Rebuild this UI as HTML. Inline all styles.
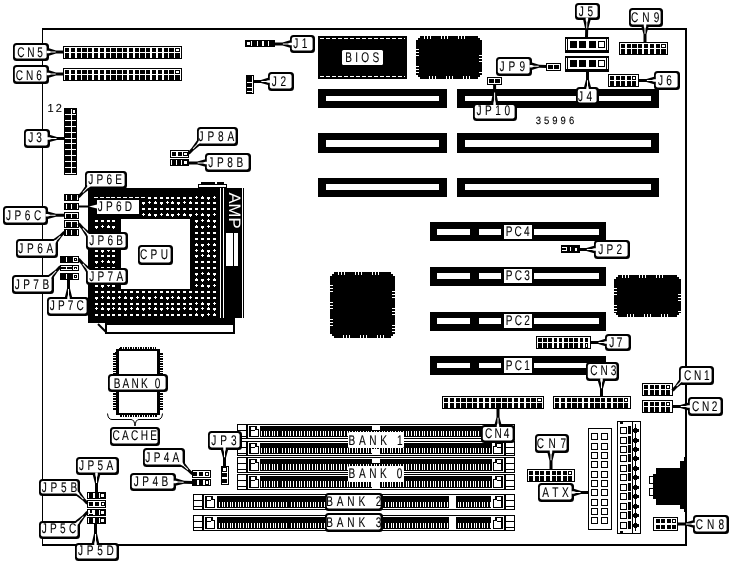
<!DOCTYPE html>
<html><head><meta charset="utf-8"><title>Motherboard layout</title>
<style>
html,body{margin:0;padding:0;background:#fff;}
body{width:731px;height:563px;overflow:hidden;}
svg{display:block;font-family:"Liberation Sans",sans-serif;}
svg rect,svg line,svg path,svg polygon{shape-rendering:crispEdges;}
svg text{text-rendering:geometricPrecision;}
svg{will-change:transform;}
</style></head><body>
<svg width="731" height="563" viewBox="0 0 731 563">
<rect x="0" y="0" width="731" height="563" fill="#fff"/>
<rect x="42" y="28" width="645" height="2" fill="#000"/>
<rect x="42" y="28" width="1" height="517" fill="#000"/>
<rect x="685" y="28" width="2" height="518" fill="#000"/>
<rect x="42" y="544" width="645" height="2" fill="#000"/>
<rect x="63" y="46" width="119" height="13" fill="#000"/>
<rect x="64" y="47" width="117" height="11" fill="#fff"/>
<rect x="65" y="48" width="4" height="4" fill="#000"/>
<rect x="65" y="53" width="4" height="5" fill="#000"/>
<rect x="71" y="48" width="4" height="4" fill="#000"/>
<rect x="71" y="53" width="4" height="5" fill="#000"/>
<rect x="77" y="48" width="4" height="4" fill="#000"/>
<rect x="77" y="53" width="4" height="5" fill="#000"/>
<rect x="82" y="48" width="5" height="4" fill="#000"/>
<rect x="82" y="53" width="5" height="5" fill="#000"/>
<rect x="88" y="48" width="4" height="4" fill="#000"/>
<rect x="88" y="53" width="4" height="5" fill="#000"/>
<rect x="94" y="48" width="4" height="4" fill="#000"/>
<rect x="94" y="53" width="4" height="5" fill="#000"/>
<rect x="100" y="48" width="4" height="4" fill="#000"/>
<rect x="100" y="53" width="4" height="5" fill="#000"/>
<rect x="106" y="48" width="4" height="4" fill="#000"/>
<rect x="106" y="53" width="4" height="5" fill="#000"/>
<rect x="111" y="48" width="5" height="4" fill="#000"/>
<rect x="111" y="53" width="5" height="5" fill="#000"/>
<rect x="117" y="48" width="5" height="4" fill="#000"/>
<rect x="117" y="53" width="5" height="5" fill="#000"/>
<rect x="123" y="48" width="4" height="4" fill="#000"/>
<rect x="123" y="53" width="4" height="5" fill="#000"/>
<rect x="129" y="48" width="4" height="4" fill="#000"/>
<rect x="129" y="53" width="4" height="5" fill="#000"/>
<rect x="135" y="48" width="4" height="4" fill="#000"/>
<rect x="135" y="53" width="4" height="5" fill="#000"/>
<rect x="140" y="48" width="5" height="4" fill="#000"/>
<rect x="140" y="53" width="5" height="5" fill="#000"/>
<rect x="146" y="48" width="4" height="4" fill="#000"/>
<rect x="146" y="53" width="4" height="5" fill="#000"/>
<rect x="152" y="48" width="4" height="4" fill="#000"/>
<rect x="152" y="53" width="4" height="5" fill="#000"/>
<rect x="158" y="48" width="4" height="4" fill="#000"/>
<rect x="158" y="53" width="4" height="5" fill="#000"/>
<rect x="164" y="48" width="4" height="4" fill="#000"/>
<rect x="164" y="53" width="4" height="5" fill="#000"/>
<rect x="169" y="48" width="5" height="4" fill="#000"/>
<rect x="169" y="53" width="5" height="5" fill="#000"/>
<rect x="175" y="48" width="5" height="4" fill="#000"/>
<rect x="175" y="53" width="5" height="5" fill="#000"/>
<rect x="176" y="49" width="3" height="2" fill="#fff"/>
<polygon points="47.80,55.70 49.00,55.70 56.00,53.50 63.00,53.50 63.00,50.50 56.00,50.50 49.00,48.30 47.80,48.30" fill="#000" style="shape-rendering:auto"/>
<rect x="13" y="43" width="36" height="18" rx="3.5" fill="#000" style="shape-rendering:auto"/>
<rect x="14.8" y="44.9" width="31.8" height="13.7" rx="2" fill="#fff" style="shape-rendering:auto"/>
<rect x="63" y="68" width="119" height="13" fill="#000"/>
<rect x="64" y="69" width="117" height="11" fill="#fff"/>
<rect x="65" y="70" width="4" height="4" fill="#000"/>
<rect x="65" y="75" width="4" height="5" fill="#000"/>
<rect x="71" y="70" width="4" height="4" fill="#000"/>
<rect x="71" y="75" width="4" height="5" fill="#000"/>
<rect x="77" y="70" width="4" height="4" fill="#000"/>
<rect x="77" y="75" width="4" height="5" fill="#000"/>
<rect x="82" y="70" width="5" height="4" fill="#000"/>
<rect x="82" y="75" width="5" height="5" fill="#000"/>
<rect x="88" y="70" width="4" height="4" fill="#000"/>
<rect x="88" y="75" width="4" height="5" fill="#000"/>
<rect x="94" y="70" width="4" height="4" fill="#000"/>
<rect x="94" y="75" width="4" height="5" fill="#000"/>
<rect x="100" y="70" width="4" height="4" fill="#000"/>
<rect x="100" y="75" width="4" height="5" fill="#000"/>
<rect x="106" y="70" width="4" height="4" fill="#000"/>
<rect x="106" y="75" width="4" height="5" fill="#000"/>
<rect x="111" y="70" width="5" height="4" fill="#000"/>
<rect x="111" y="75" width="5" height="5" fill="#000"/>
<rect x="117" y="70" width="5" height="4" fill="#000"/>
<rect x="117" y="75" width="5" height="5" fill="#000"/>
<rect x="123" y="70" width="4" height="4" fill="#000"/>
<rect x="123" y="75" width="4" height="5" fill="#000"/>
<rect x="129" y="70" width="4" height="4" fill="#000"/>
<rect x="129" y="75" width="4" height="5" fill="#000"/>
<rect x="135" y="70" width="4" height="4" fill="#000"/>
<rect x="135" y="75" width="4" height="5" fill="#000"/>
<rect x="140" y="70" width="5" height="4" fill="#000"/>
<rect x="140" y="75" width="5" height="5" fill="#000"/>
<rect x="146" y="70" width="4" height="4" fill="#000"/>
<rect x="146" y="75" width="4" height="5" fill="#000"/>
<rect x="152" y="70" width="4" height="4" fill="#000"/>
<rect x="152" y="75" width="4" height="5" fill="#000"/>
<rect x="158" y="70" width="4" height="4" fill="#000"/>
<rect x="158" y="75" width="4" height="5" fill="#000"/>
<rect x="164" y="70" width="4" height="4" fill="#000"/>
<rect x="164" y="75" width="4" height="5" fill="#000"/>
<rect x="169" y="70" width="5" height="4" fill="#000"/>
<rect x="169" y="75" width="5" height="5" fill="#000"/>
<rect x="175" y="70" width="5" height="4" fill="#000"/>
<rect x="175" y="75" width="5" height="5" fill="#000"/>
<rect x="176" y="71" width="3" height="2" fill="#fff"/>
<polygon points="47.80,77.70 49.00,77.70 56.00,75.50 63.00,75.50 63.00,72.50 56.00,72.50 49.00,70.30 47.80,70.30" fill="#000" style="shape-rendering:auto"/>
<rect x="13" y="65" width="36" height="19" rx="3.5" fill="#000" style="shape-rendering:auto"/>
<rect x="14.8" y="66.9" width="31.8" height="14.7" rx="2" fill="#fff" style="shape-rendering:auto"/>
<rect x="64" y="108" width="13" height="67" fill="#000"/>
<rect x="65" y="109" width="11" height="65" fill="#fff"/>
<rect x="65" y="109" width="6" height="5" fill="#000"/>
<rect x="72" y="109" width="4" height="5" fill="#000"/>
<rect x="65" y="115" width="6" height="5" fill="#000"/>
<rect x="72" y="115" width="4" height="5" fill="#000"/>
<rect x="65" y="121" width="6" height="5" fill="#000"/>
<rect x="72" y="121" width="4" height="5" fill="#000"/>
<rect x="65" y="127" width="6" height="5" fill="#000"/>
<rect x="72" y="127" width="4" height="5" fill="#000"/>
<rect x="65" y="133" width="6" height="5" fill="#000"/>
<rect x="72" y="133" width="4" height="5" fill="#000"/>
<rect x="65" y="139" width="6" height="4" fill="#000"/>
<rect x="72" y="139" width="4" height="4" fill="#000"/>
<rect x="65" y="144" width="6" height="5" fill="#000"/>
<rect x="72" y="144" width="4" height="5" fill="#000"/>
<rect x="65" y="150" width="6" height="5" fill="#000"/>
<rect x="72" y="150" width="4" height="5" fill="#000"/>
<rect x="65" y="156" width="6" height="5" fill="#000"/>
<rect x="72" y="156" width="4" height="5" fill="#000"/>
<rect x="65" y="162" width="6" height="5" fill="#000"/>
<rect x="72" y="162" width="4" height="5" fill="#000"/>
<rect x="65" y="168" width="6" height="5" fill="#000"/>
<rect x="72" y="168" width="4" height="5" fill="#000"/>
<rect x="73" y="110" width="2" height="3" fill="#fff"/>
<polygon points="48.30,142.10 49.50,142.10 56.90,139.90 64.30,139.90 64.30,136.90 56.90,136.90 49.50,134.70 48.30,134.70" fill="#000" style="shape-rendering:auto"/>
<rect x="24" y="129" width="26" height="19" rx="3.5" fill="#000" style="shape-rendering:auto"/>
<rect x="25.8" y="130.9" width="21.8" height="14.7" rx="2" fill="#fff" style="shape-rendering:auto"/>
<rect x="245" y="40" width="30" height="7" fill="#000"/>
<rect x="247" y="42" width="3" height="3" fill="#fff"/>
<rect x="251" y="41" width="1" height="5" fill="#fff"/>
<rect x="257" y="41" width="1" height="5" fill="#fff"/>
<rect x="268" y="41" width="1" height="5" fill="#fff"/>
<rect x="262" y="41" width="2" height="5" fill="#fff"/>
<polygon points="291.20,40.30 290.00,40.30 282.50,42.50 275.00,42.50 275.00,45.50 282.50,45.50 290.00,47.70 291.20,47.70" fill="#000" style="shape-rendering:auto"/>
<rect x="290" y="35" width="25" height="18" rx="3.5" fill="#000" style="shape-rendering:auto"/>
<rect x="291.8" y="36.9" width="20.8" height="13.7" rx="2" fill="#fff" style="shape-rendering:auto"/>
<rect x="246" y="75" width="8" height="19" fill="#000"/>
<rect x="252" y="76" width="1" height="17" fill="#fff"/>
<rect x="247" y="82" width="5" height="1" fill="#fff"/>
<rect x="247" y="87" width="5" height="1" fill="#fff"/>
<rect x="247" y="91" width="5" height="1" fill="#fff"/>
<polygon points="269.17,77.69 267.97,77.70 260.99,79.95 253.99,80.00 254.01,83.00 261.01,82.95 268.03,85.10 269.23,85.09" fill="#000" style="shape-rendering:auto"/>
<rect x="268" y="72" width="26" height="19" rx="3.5" fill="#000" style="shape-rendering:auto"/>
<rect x="269.8" y="73.9" width="21.8" height="14.7" rx="2" fill="#fff" style="shape-rendering:auto"/>
<rect x="318" y="36" width="89" height="43" fill="#000"/>
<line x1="320" y1="38.5" x2="405" y2="38.5" stroke="#fff" stroke-width="1" stroke-dasharray="4 2"/>
<line x1="320" y1="76.5" x2="405" y2="76.5" stroke="#fff" stroke-width="1" stroke-dasharray="4 2"/>
<rect x="342" y="50" width="41" height="15" rx="1.5" fill="#fff" style="shape-rendering:auto"/>
<path d="M420 36H478V38H480V40H482V75H480V77H478V79H420V77H418V75H416V40H418V38H420Z" fill="#000" stroke="none" stroke-width="1"/>
<path d="M424 36h1v3h-1zM429 76h1v3h-1zM427 36h1v3h-1zM432 76h1v3h-1zM430 36h1v3h-1zM435 76h1v3h-1zM441 36h1v3h-1zM446 76h1v3h-1zM444 36h1v3h-1zM449 76h1v3h-1zM447 36h1v3h-1zM452 76h1v3h-1zM458 36h1v3h-1zM463 76h1v3h-1zM461 36h1v3h-1zM466 76h1v3h-1zM464 36h1v3h-1zM469 76h1v3h-1zM416 49h3v1h-3zM479 55h3v1h-3zM416 52h3v1h-3zM479 58h3v1h-3zM416 55h3v1h-3zM479 61h3v1h-3zM416 66h3v1h-3zM479 72h3v1h-3zM416 69h3v1h-3zM416 72h3v1h-3z" fill="#fff" stroke="none" stroke-width="1"/>
<path d="M618 275H677V277H679V279H681V313H679V315H677V317H618V315H616V313H614V279H616V277H618Z" fill="#000" stroke="none" stroke-width="1"/>
<path d="M622 275h1v3h-1zM627 314h1v3h-1zM625 275h1v3h-1zM630 314h1v3h-1zM628 275h1v3h-1zM633 314h1v3h-1zM639 275h1v3h-1zM644 314h1v3h-1zM642 275h1v3h-1zM647 314h1v3h-1zM645 275h1v3h-1zM650 314h1v3h-1zM656 275h1v3h-1zM661 314h1v3h-1zM659 275h1v3h-1zM664 314h1v3h-1zM662 275h1v3h-1zM667 314h1v3h-1zM614 288h3v1h-3zM678 294h3v1h-3zM614 291h3v1h-3zM678 297h3v1h-3zM614 294h3v1h-3zM678 300h3v1h-3zM614 305h3v1h-3zM678 311h3v1h-3zM614 308h3v1h-3zM614 311h3v1h-3z" fill="#fff" stroke="none" stroke-width="1"/>
<path d="M334 272H391V274H393V276H395V334H393V336H391V338H334V336H332V334H330V276H332V274H334Z" fill="#000" stroke="none" stroke-width="1"/>
<path d="M338 272h1v3h-1zM343 335h1v3h-1zM341 272h1v3h-1zM346 335h1v3h-1zM344 272h1v3h-1zM349 335h1v3h-1zM355 272h1v3h-1zM360 335h1v3h-1zM358 272h1v3h-1zM363 335h1v3h-1zM361 272h1v3h-1zM366 335h1v3h-1zM372 272h1v3h-1zM377 335h1v3h-1zM375 272h1v3h-1zM380 335h1v3h-1zM378 272h1v3h-1zM383 335h1v3h-1zM330 285h3v1h-3zM392 291h3v1h-3zM330 288h3v1h-3zM392 294h3v1h-3zM330 291h3v1h-3zM392 297h3v1h-3zM330 302h3v1h-3zM392 308h3v1h-3zM330 305h3v1h-3zM392 311h3v1h-3zM330 308h3v1h-3zM392 314h3v1h-3zM330 319h3v1h-3zM392 325h3v1h-3zM330 322h3v1h-3zM392 328h3v1h-3zM330 325h3v1h-3zM392 331h3v1h-3z" fill="#fff" stroke="none" stroke-width="1"/>
<rect x="546" y="63" width="15" height="8" fill="#000"/>
<rect x="547" y="64" width="13" height="6" fill="#fff"/>
<rect x="548" y="65" width="5" height="4" fill="#000"/>
<rect x="554" y="65" width="5" height="4" fill="#000"/>
<polygon points="530.52,69.87 531.72,69.90 539.02,67.85 546.27,68.00 546.33,65.00 539.08,64.85 531.88,62.50 530.68,62.48" fill="#000" style="shape-rendering:auto"/>
<rect x="496" y="57" width="36" height="19" rx="3.5" fill="#000" style="shape-rendering:auto"/>
<rect x="497.8" y="58.9" width="31.8" height="14.7" rx="2" fill="#fff" style="shape-rendering:auto"/>
<rect x="318" y="89" width="129" height="19" fill="#000"/>
<rect x="326" y="96" width="113" height="5" fill="#fff"/>
<rect x="457" y="89" width="202" height="19" fill="#000"/>
<rect x="465" y="96" width="186" height="5" fill="#fff"/>
<rect x="318" y="133" width="129" height="20" fill="#000"/>
<rect x="326" y="140" width="113" height="7" fill="#fff"/>
<rect x="457" y="133" width="202" height="20" fill="#000"/>
<rect x="465" y="140" width="186" height="7" fill="#fff"/>
<rect x="318" y="178" width="129" height="19" fill="#000"/>
<rect x="326" y="184" width="113" height="6" fill="#fff"/>
<rect x="457" y="178" width="202" height="19" fill="#000"/>
<rect x="465" y="184" width="186" height="6" fill="#fff"/>
<rect x="487" y="77" width="15" height="8" fill="#000"/>
<rect x="488" y="78" width="13" height="6" fill="#fff"/>
<rect x="489" y="79" width="5" height="4" fill="#000"/>
<rect x="495" y="79" width="5" height="4" fill="#000"/>
<polygon points="498.30,104.20 498.30,103.00 496.10,92.02 496.10,84.70 493.10,84.70 493.10,92.02 490.90,103.00 490.90,104.20" fill="#000" style="shape-rendering:auto"/>
<rect x="473" y="103" width="44" height="18" rx="3.5" fill="#000" style="shape-rendering:auto"/>
<rect x="474.8" y="104.9" width="39.8" height="13.7" rx="2" fill="#fff" style="shape-rendering:auto"/>
<rect x="565" y="37" width="44" height="16" fill="#000"/>
<rect x="566" y="39" width="1" height="11" fill="#fff"/>
<rect x="607" y="39" width="1" height="11" fill="#fff"/>
<rect x="568" y="39" width="38" height="11" fill="#fff"/>
<rect x="570" y="41" width="7" height="7" fill="#000"/>
<rect x="579" y="41" width="7" height="7" fill="#000"/>
<rect x="589" y="41" width="7" height="7" fill="#000"/>
<rect x="598" y="41" width="7" height="7" fill="#000"/>
<rect x="599" y="42" width="5" height="5" fill="#fff"/>
<rect x="565" y="56" width="44" height="16" fill="#000"/>
<rect x="566" y="58" width="1" height="11" fill="#fff"/>
<rect x="607" y="58" width="1" height="11" fill="#fff"/>
<rect x="568" y="58" width="38" height="11" fill="#fff"/>
<rect x="570" y="60" width="7" height="7" fill="#000"/>
<rect x="579" y="60" width="7" height="7" fill="#000"/>
<rect x="589" y="60" width="7" height="7" fill="#000"/>
<rect x="598" y="60" width="7" height="7" fill="#000"/>
<rect x="599" y="61" width="5" height="5" fill="#fff"/>
<polygon points="583.23,18.72 583.20,19.91 585.20,28.67 585.00,37.37 588.00,37.43 588.20,28.73 590.60,20.09 590.63,18.89" fill="#000" style="shape-rendering:auto"/>
<rect x="575" y="3" width="25" height="17" rx="3.5" fill="#000" style="shape-rendering:auto"/>
<rect x="576.8" y="4.9" width="20.8" height="12.7" rx="2" fill="#fff" style="shape-rendering:auto"/>
<polygon points="591.20,89.20 591.20,88.00 589.00,79.80 589.00,71.60 586.00,71.60 586.00,79.80 583.80,88.00 583.80,89.20" fill="#000" style="shape-rendering:auto"/>
<rect x="576" y="87" width="23" height="18" rx="3.5" fill="#000" style="shape-rendering:auto"/>
<rect x="577.8" y="88.9" width="18.8" height="13.7" rx="2" fill="#fff" style="shape-rendering:auto"/>
<rect x="619" y="42" width="49" height="13" fill="#000"/>
<rect x="620" y="43" width="47" height="11" fill="#fff"/>
<rect x="621" y="44" width="4" height="4" fill="#000"/>
<rect x="621" y="49" width="4" height="5" fill="#000"/>
<rect x="627" y="44" width="4" height="4" fill="#000"/>
<rect x="627" y="49" width="4" height="5" fill="#000"/>
<rect x="632" y="44" width="5" height="4" fill="#000"/>
<rect x="632" y="49" width="5" height="5" fill="#000"/>
<rect x="638" y="44" width="4" height="4" fill="#000"/>
<rect x="638" y="49" width="4" height="5" fill="#000"/>
<rect x="644" y="44" width="4" height="4" fill="#000"/>
<rect x="644" y="49" width="4" height="5" fill="#000"/>
<rect x="650" y="44" width="4" height="4" fill="#000"/>
<rect x="650" y="49" width="4" height="5" fill="#000"/>
<rect x="656" y="44" width="4" height="4" fill="#000"/>
<rect x="656" y="49" width="4" height="5" fill="#000"/>
<rect x="661" y="44" width="5" height="4" fill="#000"/>
<rect x="661" y="49" width="5" height="5" fill="#000"/>
<rect x="662" y="45" width="3" height="2" fill="#fff"/>
<polygon points="641.30,25.10 641.30,26.30 643.50,34.15 643.50,42.00 646.50,42.00 646.50,34.15 648.70,26.30 648.70,25.10" fill="#000" style="shape-rendering:auto"/>
<rect x="629" y="8" width="34" height="19" rx="3.5" fill="#000" style="shape-rendering:auto"/>
<rect x="630.8" y="9.9" width="29.8" height="14.7" rx="2" fill="#fff" style="shape-rendering:auto"/>
<rect x="608" y="74" width="31" height="13" fill="#000"/>
<rect x="609" y="75" width="29" height="11" fill="#fff"/>
<rect x="610" y="76" width="4" height="4" fill="#000"/>
<rect x="610" y="81" width="4" height="5" fill="#000"/>
<rect x="616" y="76" width="4" height="4" fill="#000"/>
<rect x="616" y="81" width="4" height="5" fill="#000"/>
<rect x="621" y="76" width="4" height="4" fill="#000"/>
<rect x="621" y="81" width="4" height="5" fill="#000"/>
<rect x="627" y="76" width="4" height="4" fill="#000"/>
<rect x="627" y="81" width="4" height="5" fill="#000"/>
<rect x="632" y="76" width="4" height="4" fill="#000"/>
<rect x="632" y="81" width="4" height="5" fill="#000"/>
<rect x="633" y="77" width="2" height="2" fill="#fff"/>
<polygon points="655.20,76.80 654.00,76.80 646.50,79.00 639.00,79.00 639.00,82.00 646.50,82.00 654.00,84.20 655.20,84.20" fill="#000" style="shape-rendering:auto"/>
<rect x="654" y="71" width="26" height="19" rx="3.5" fill="#000" style="shape-rendering:auto"/>
<rect x="655.8" y="72.9" width="21.8" height="14.7" rx="2" fill="#fff" style="shape-rendering:auto"/>
<rect x="170" y="150" width="19" height="8" fill="#000"/>
<rect x="171" y="151" width="17" height="6" fill="#fff"/>
<rect x="172" y="152" width="4" height="4" fill="#000"/>
<rect x="178" y="152" width="4" height="4" fill="#000"/>
<rect x="183" y="152" width="5" height="4" fill="#000"/>
<rect x="184" y="153" width="3" height="2" fill="#fff"/>
<rect x="170" y="159" width="19" height="7" fill="#000"/>
<rect x="171" y="160" width="17" height="5" fill="#fff"/>
<rect x="172" y="160" width="4" height="5" fill="#000"/>
<rect x="177" y="160" width="4" height="5" fill="#000"/>
<rect x="182" y="160" width="6" height="5" fill="#000"/>
<rect x="184" y="161" width="3" height="3" fill="#fff"/>
<polygon points="197.73,139.63 196.90,140.50 191.61,148.06 187.41,152.46 189.59,154.54 193.79,150.14 201.10,144.50 201.93,143.63" fill="#000" style="shape-rendering:auto"/>
<polygon points="206.60,159.30 205.40,159.30 197.20,161.50 189.00,161.50 189.00,164.50 197.20,164.50 205.40,166.70 206.60,166.70" fill="#000" style="shape-rendering:auto"/>
<rect x="197" y="127" width="41" height="19" rx="3.5" fill="#000" style="shape-rendering:auto"/>
<rect x="198.8" y="128.9" width="36.8" height="14.7" rx="2" fill="#fff" style="shape-rendering:auto"/>
<rect x="205" y="153" width="46" height="19" rx="3.5" fill="#000" style="shape-rendering:auto"/>
<rect x="206.8" y="154.9" width="41.8" height="14.7" rx="2" fill="#fff" style="shape-rendering:auto"/>
<rect x="88" y="188" width="132" height="135" fill="#000"/>
<rect x="220" y="318" width="15" height="5" fill="#000"/>
<path d="M94 197h4v1h-4zM100 197h4v1h-4zM106 197h4v1h-4zM111 197h4v1h-4zM117 197h4v1h-4zM123 197h4v1h-4zM129 197h4v1h-4zM135 197h4v1h-4zM141 197h4v1h-4zM148 197h3v2h-3zM154 197h3v2h-3zM160 197h3v2h-3zM166 197h3v2h-3zM171 197h3v2h-3zM177 197h3v2h-3zM183 197h3v2h-3zM189 197h3v2h-3zM195 197h3v1h-3zM196 196h1v3h-1zM201 197h3v2h-3zM202 196h1v1h-1zM207 197h3v2h-3zM208 199h1v1h-1zM213 197h3v1h-3zM214 196h1v3h-1zM142 202h3v2h-3zM143 204h1v1h-1zM148 202h3v1h-3zM149 201h1v3h-1zM154 202h3v2h-3zM155 201h1v1h-1zM160 202h3v2h-3zM161 204h1v1h-1zM166 202h3v1h-3zM167 201h1v3h-1zM171 202h3v2h-3zM172 201h1v1h-1zM177 202h3v2h-3zM178 204h1v1h-1zM183 202h3v1h-3zM184 201h1v3h-1zM189 202h3v2h-3zM190 201h1v1h-1zM195 202h3v2h-3zM201 202h3v2h-3zM207 202h3v2h-3zM213 202h3v2h-3zM142 208h3v2h-3zM148 208h3v2h-3zM154 208h3v2h-3zM160 208h3v2h-3zM166 208h3v2h-3zM171 208h3v2h-3zM177 208h3v2h-3zM183 208h3v2h-3zM189 208h3v2h-3zM195 208h3v2h-3zM201 208h3v2h-3zM207 208h3v2h-3zM213 208h3v2h-3zM142 214h3v1h-3zM143 213h1v3h-1zM148 214h3v2h-3zM149 213h1v1h-1zM154 214h3v2h-3zM155 216h1v1h-1zM160 214h3v1h-3zM161 213h1v3h-1zM166 214h3v2h-3zM167 213h1v1h-1zM171 214h3v2h-3zM172 216h1v1h-1zM177 214h3v1h-3zM178 213h1v3h-1zM183 214h3v2h-3zM184 213h1v1h-1zM189 214h3v2h-3zM190 216h1v1h-1zM195 214h3v1h-3zM196 213h1v3h-1zM201 214h3v2h-3zM202 213h1v1h-1zM207 214h3v2h-3zM208 216h1v1h-1zM213 214h3v1h-3zM214 213h1v3h-1zM95 220h3v2h-3zM101 220h3v2h-3zM107 220h3v2h-3zM112 220h3v2h-3zM195 220h3v2h-3zM196 222h1v1h-1zM201 220h3v1h-3zM202 219h1v3h-1zM207 220h3v2h-3zM208 219h1v1h-1zM213 220h3v2h-3zM214 222h1v1h-1zM95 226h3v2h-3zM96 228h1v1h-1zM101 226h3v1h-3zM102 225h1v3h-1zM107 226h3v2h-3zM108 225h1v1h-1zM112 226h3v2h-3zM113 228h1v1h-1zM195 226h3v2h-3zM196 225h1v1h-1zM201 226h3v2h-3zM202 228h1v1h-1zM207 226h3v1h-3zM208 225h1v3h-1zM213 226h3v2h-3zM214 225h1v1h-1zM95 232h3v2h-3zM101 232h3v2h-3zM107 232h3v2h-3zM112 232h3v2h-3zM195 232h3v2h-3zM201 232h3v2h-3zM207 232h3v2h-3zM213 232h3v2h-3zM95 238h3v1h-3zM96 237h1v3h-1zM101 238h3v2h-3zM102 237h1v1h-1zM107 238h3v2h-3zM108 240h1v1h-1zM112 238h3v1h-3zM113 237h1v3h-1zM195 238h3v2h-3zM201 238h3v2h-3zM207 238h3v2h-3zM213 238h3v2h-3zM95 244h3v2h-3zM101 244h3v2h-3zM107 244h3v2h-3zM112 244h3v2h-3zM195 244h3v2h-3zM196 243h1v1h-1zM201 244h3v2h-3zM202 246h1v1h-1zM207 244h3v1h-3zM208 243h1v3h-1zM213 244h3v2h-3zM214 243h1v1h-1zM95 250h3v2h-3zM96 249h1v1h-1zM101 250h3v2h-3zM102 252h1v1h-1zM107 250h3v1h-3zM108 249h1v3h-1zM112 250h3v2h-3zM113 249h1v1h-1zM195 250h3v1h-3zM196 249h1v3h-1zM201 250h3v2h-3zM202 249h1v1h-1zM207 250h3v2h-3zM208 252h1v1h-1zM213 250h3v1h-3zM214 249h1v3h-1zM95 255h3v2h-3zM101 255h3v2h-3zM107 255h3v2h-3zM112 255h3v2h-3zM195 255h3v2h-3zM196 257h1v1h-1zM201 255h3v1h-3zM202 254h1v3h-1zM207 255h3v2h-3zM208 254h1v1h-1zM213 255h3v2h-3zM214 257h1v1h-1zM95 261h3v2h-3zM96 263h1v1h-1zM101 261h3v1h-3zM102 260h1v3h-1zM107 261h3v2h-3zM108 260h1v1h-1zM112 261h3v2h-3zM113 263h1v1h-1zM195 261h3v2h-3zM201 261h3v2h-3zM207 261h3v2h-3zM213 261h3v2h-3zM95 267h3v2h-3zM101 267h3v2h-3zM107 267h3v2h-3zM112 267h3v2h-3zM195 267h3v2h-3zM201 267h3v2h-3zM207 267h3v2h-3zM213 267h3v2h-3zM95 273h3v1h-3zM96 272h1v3h-1zM101 273h3v2h-3zM102 272h1v1h-1zM107 273h3v2h-3zM108 275h1v1h-1zM112 273h3v1h-3zM113 272h1v3h-1zM195 273h3v2h-3zM196 275h1v1h-1zM201 273h3v1h-3zM202 272h1v3h-1zM207 273h3v2h-3zM208 272h1v1h-1zM213 273h3v2h-3zM214 275h1v1h-1zM95 279h3v2h-3zM101 279h3v2h-3zM107 279h3v2h-3zM112 279h3v2h-3zM195 279h3v2h-3zM196 278h1v1h-1zM201 279h3v2h-3zM202 281h1v1h-1zM207 279h3v1h-3zM208 278h1v3h-1zM213 279h3v2h-3zM214 278h1v1h-1zM95 285h3v2h-3zM96 284h1v1h-1zM101 285h3v2h-3zM102 287h1v1h-1zM107 285h3v1h-3zM108 284h1v3h-1zM112 285h3v2h-3zM113 284h1v1h-1zM195 285h3v1h-3zM196 284h1v3h-1zM201 285h3v2h-3zM202 284h1v1h-1zM207 285h3v2h-3zM208 287h1v1h-1zM213 285h3v1h-3zM214 284h1v3h-1zM95 291h3v2h-3zM101 291h3v2h-3zM107 291h3v2h-3zM112 291h3v2h-3zM118 291h3v2h-3zM124 291h3v2h-3zM130 291h3v2h-3zM136 291h3v2h-3zM142 291h3v2h-3zM148 291h3v2h-3zM154 291h3v2h-3zM160 291h3v2h-3zM166 291h3v2h-3zM171 291h3v2h-3zM177 291h3v2h-3zM183 291h3v2h-3zM189 291h3v2h-3zM195 291h3v2h-3zM201 291h3v2h-3zM207 291h3v2h-3zM213 291h3v2h-3zM95 297h3v2h-3zM96 299h1v1h-1zM101 297h3v1h-3zM102 296h1v3h-1zM107 297h3v2h-3zM108 296h1v1h-1zM112 297h3v2h-3zM113 299h1v1h-1zM118 297h3v1h-3zM119 296h1v3h-1zM124 297h3v2h-3zM125 296h1v1h-1zM130 297h3v2h-3zM131 299h1v1h-1zM136 297h3v1h-3zM137 296h1v3h-1zM142 297h3v2h-3zM143 296h1v1h-1zM148 297h3v2h-3zM149 299h1v1h-1zM154 297h3v1h-3zM155 296h1v3h-1zM160 297h3v2h-3zM161 296h1v1h-1zM166 297h3v2h-3zM167 299h1v1h-1zM171 297h3v1h-3zM172 296h1v3h-1zM177 297h3v2h-3zM178 296h1v1h-1zM183 297h3v2h-3zM184 299h1v1h-1zM189 297h3v1h-3zM190 296h1v3h-1zM195 297h3v2h-3zM201 297h3v2h-3zM207 297h3v2h-3zM213 297h3v2h-3zM95 303h3v2h-3zM101 303h3v2h-3zM107 303h3v2h-3zM112 303h3v2h-3zM118 303h3v2h-3zM124 303h3v2h-3zM130 303h3v2h-3zM136 303h3v2h-3zM142 303h3v2h-3zM148 303h3v2h-3zM154 303h3v2h-3zM160 303h3v2h-3zM166 303h3v2h-3zM171 303h3v2h-3zM177 303h3v2h-3zM183 303h3v2h-3zM189 303h3v2h-3zM195 303h3v1h-3zM196 302h1v3h-1zM201 303h3v2h-3zM202 302h1v1h-1zM207 303h3v2h-3zM208 305h1v1h-1zM213 303h3v1h-3zM214 302h1v3h-1zM95 308h3v1h-3zM96 307h1v3h-1zM101 308h3v2h-3zM102 307h1v1h-1zM107 308h3v2h-3zM108 310h1v1h-1zM112 308h3v1h-3zM113 307h1v3h-1zM118 308h3v2h-3zM119 307h1v1h-1zM124 308h3v2h-3zM125 310h1v1h-1zM130 308h3v1h-3zM131 307h1v3h-1zM136 308h3v2h-3zM137 307h1v1h-1zM142 308h3v2h-3zM143 310h1v1h-1zM148 308h3v1h-3zM149 307h1v3h-1zM154 308h3v2h-3zM155 307h1v1h-1zM160 308h3v2h-3zM161 310h1v1h-1zM166 308h3v1h-3zM167 307h1v3h-1zM171 308h3v2h-3zM172 307h1v1h-1zM177 308h3v2h-3zM178 310h1v1h-1zM183 308h3v1h-3zM184 307h1v3h-1zM189 308h3v2h-3zM190 307h1v1h-1zM195 308h3v2h-3zM196 310h1v1h-1zM201 308h3v1h-3zM202 307h1v3h-1zM207 308h3v2h-3zM208 307h1v1h-1zM213 308h3v2h-3zM214 310h1v1h-1zM95 314h3v2h-3zM101 314h3v2h-3zM107 314h3v2h-3zM112 314h3v2h-3zM118 314h3v2h-3zM124 314h3v2h-3zM130 314h3v2h-3zM136 314h3v2h-3zM142 314h3v2h-3zM148 314h3v2h-3zM154 314h3v2h-3zM160 314h3v2h-3zM166 314h3v2h-3zM171 314h3v2h-3zM177 314h3v2h-3zM183 314h3v2h-3zM189 314h3v2h-3zM195 314h3v2h-3zM196 313h1v1h-1zM201 314h3v2h-3zM202 316h1v1h-1zM207 314h3v1h-3zM208 313h1v3h-1zM213 314h3v2h-3zM214 313h1v1h-1z" fill="#fff" stroke="none" stroke-width="1"/>
<rect x="121" y="219" width="69" height="70" fill="#fff"/>
<rect x="198" y="182" width="29" height="6" fill="#000"/>
<rect x="198" y="182" width="3" height="2" fill="#fff"/>
<rect x="215" y="182" width="2" height="2" fill="#fff"/>
<rect x="224" y="182" width="3" height="2" fill="#fff"/>
<rect x="199" y="185" width="27" height="2" fill="#fff"/>
<rect x="220" y="188" width="24" height="130" fill="#000"/>
<rect x="220" y="188" width="1" height="130" fill="#fff"/>
<rect x="223" y="188" width="1" height="130" fill="#fff"/>
<rect x="242" y="188" width="1" height="130" fill="#fff"/>
<rect x="226" y="233" width="12" height="33" fill="#fff"/>
<rect x="233" y="233" width="1" height="33" fill="#000"/>
<rect x="105" y="323" width="130" height="11" fill="#000"/>
<rect x="107" y="325" width="126" height="7" fill="#fff"/>
<line x1="98" y1="324" x2="106" y2="332" stroke="#000" stroke-width="2" style="shape-rendering:auto"/>
<rect x="64" y="194" width="15" height="7" fill="#000"/>
<rect x="66" y="195" width="1" height="5" fill="#fff"/>
<rect x="71" y="195" width="1" height="5" fill="#fff"/>
<rect x="77" y="195" width="1" height="5" fill="#fff"/>
<rect x="64" y="203" width="15" height="7" fill="#000"/>
<rect x="66" y="204" width="1" height="5" fill="#fff"/>
<rect x="71" y="204" width="1" height="5" fill="#fff"/>
<rect x="77" y="204" width="1" height="5" fill="#fff"/>
<rect x="64" y="212" width="15" height="7" fill="#000"/>
<rect x="65" y="213" width="13" height="5" fill="#fff"/>
<rect x="66" y="214" width="11" height="4" fill="#000"/>
<rect x="71" y="213" width="1" height="5" fill="#fff"/>
<rect x="64" y="220" width="15" height="8" fill="#000"/>
<rect x="65" y="221" width="13" height="6" fill="#fff"/>
<rect x="66" y="222" width="11" height="5" fill="#000"/>
<rect x="71" y="221" width="1" height="6" fill="#fff"/>
<rect x="64" y="229" width="15" height="7" fill="#000"/>
<rect x="66" y="230" width="1" height="5" fill="#fff"/>
<rect x="71" y="230" width="1" height="5" fill="#fff"/>
<rect x="77" y="230" width="1" height="5" fill="#fff"/>
<polygon points="87.23,183.63 86.40,184.50 81.41,191.77 77.41,195.97 79.59,198.03 83.59,193.83 90.60,188.50 91.43,187.63" fill="#000" style="shape-rendering:auto"/>
<line x1="79" y1="206.5" x2="97" y2="206.5" stroke="#000" stroke-width="2" style="shape-rendering:auto"/>
<polygon points="46.70,219.00 47.90,219.00 55.95,216.80 64.00,216.80 64.00,213.80 55.95,213.80 47.90,211.60 46.70,211.60" fill="#000" style="shape-rendering:auto"/>
<polygon points="91.48,234.00 90.69,233.10 83.63,227.12 79.63,222.52 77.37,224.48 81.37,229.08 86.31,236.90 87.10,237.81" fill="#000" style="shape-rendering:auto"/>
<polygon points="56.20,244.40 57.05,243.55 61.76,236.86 65.56,233.06 63.44,230.94 59.64,234.74 52.95,239.45 52.10,240.30" fill="#000" style="shape-rendering:auto"/>
<rect x="85" y="171" width="42" height="18" rx="3.5" fill="#000" style="shape-rendering:auto"/>
<rect x="86.8" y="172.9" width="37.8" height="13.7" rx="2" fill="#fff" style="shape-rendering:auto"/>
<rect x="97" y="200" width="42" height="14" fill="#fff"/>
<path d="M97 204.5L89 206.5L97 208.5Z" fill="#fff" stroke="none" stroke-width="1" style="shape-rendering:auto"/>
<rect x="3" y="206" width="45" height="19" rx="3.5" fill="#000" style="shape-rendering:auto"/>
<rect x="4.8" y="207.9" width="40.8" height="14.7" rx="2" fill="#fff" style="shape-rendering:auto"/>
<rect x="86" y="232" width="42" height="18" rx="3.5" fill="#000" style="shape-rendering:auto"/>
<rect x="87.8" y="233.9" width="37.8" height="13.7" rx="2" fill="#fff" style="shape-rendering:auto"/>
<rect x="16" y="239" width="42" height="19" rx="3.5" fill="#000" style="shape-rendering:auto"/>
<rect x="17.8" y="240.9" width="37.8" height="14.7" rx="2" fill="#fff" style="shape-rendering:auto"/>
<rect x="138" y="245" width="35" height="20" rx="3.5" fill="#000" style="shape-rendering:auto"/>
<rect x="139.8" y="246.9" width="30.8" height="15.7" rx="2" fill="#fff" style="shape-rendering:auto"/>
<rect x="60" y="256" width="19" height="7" fill="#000"/>
<rect x="66" y="257" width="1" height="5" fill="#fff"/>
<rect x="73" y="257" width="5" height="5" fill="#fff"/>
<rect x="74" y="258" width="3" height="3" fill="#000"/>
<rect x="75" y="259" width="1" height="1" fill="#fff"/>
<rect x="60" y="265" width="19" height="6" fill="#000"/>
<rect x="73" y="266" width="5" height="4" fill="#fff"/>
<rect x="74" y="267" width="3" height="2" fill="#000"/>
<rect x="75" y="268" width="1" height="1" fill="#fff"/>
<rect x="61" y="266" width="11" height="1" fill="#fff"/>
<rect x="61" y="269" width="11" height="1" fill="#fff"/>
<rect x="66" y="266" width="1" height="4" fill="#fff"/>
<rect x="60" y="273" width="19" height="7" fill="#000"/>
<rect x="66" y="274" width="1" height="5" fill="#fff"/>
<rect x="73" y="274" width="5" height="5" fill="#fff"/>
<rect x="74" y="275" width="3" height="3" fill="#000"/>
<rect x="75" y="276" width="1" height="1" fill="#fff"/>
<polygon points="91.48,269.50 90.69,268.60 83.63,262.62 79.63,258.02 77.37,259.98 81.37,264.58 86.31,272.40 87.10,273.31" fill="#000" style="shape-rendering:auto"/>
<polygon points="51.77,279.87 52.60,279.00 57.59,271.73 61.59,267.53 59.41,265.47 55.41,269.67 48.40,275.00 47.57,275.87" fill="#000" style="shape-rendering:auto"/>
<polygon points="72.20,298.70 72.20,297.50 70.00,288.55 70.00,279.60 67.00,279.60 67.00,288.55 64.80,297.50 64.80,298.70" fill="#000" style="shape-rendering:auto"/>
<rect x="86" y="268" width="42" height="17" rx="3.5" fill="#000" style="shape-rendering:auto"/>
<rect x="87.8" y="269.9" width="37.8" height="12.7" rx="2" fill="#fff" style="shape-rendering:auto"/>
<rect x="12" y="275" width="42" height="19" rx="3.5" fill="#000" style="shape-rendering:auto"/>
<rect x="13.8" y="276.9" width="37.8" height="14.7" rx="2" fill="#fff" style="shape-rendering:auto"/>
<rect x="47" y="297" width="42" height="19" rx="3.5" fill="#000" style="shape-rendering:auto"/>
<rect x="48.8" y="298.9" width="37.8" height="14.7" rx="2" fill="#fff" style="shape-rendering:auto"/>
<path d="M120 348.5H156M120 415.5H158" stroke="#000" stroke-width="3" stroke-dasharray="1.5 1" fill="none"/>
<path d="M114.5 353V411M161.5 353V411" stroke="#000" stroke-width="3" stroke-dasharray="1.5 1" fill="none"/>
<rect x="116" y="349" width="44" height="66" fill="#000"/>
<rect x="119" y="351" width="38" height="62" fill="#fff"/>
<path d="M115.5 353L120 348.5" fill="none" stroke="#000" stroke-width="1.5"/>
<rect x="108" y="374" width="60" height="18" rx="3.5" fill="#000" style="shape-rendering:auto"/>
<rect x="109.8" y="375.9" width="55.8" height="13.7" rx="2" fill="#fff" style="shape-rendering:auto"/>
<path d="M107.5 413.5Q108 419.5 112 419.5H131Q134.5 419.5 135 426Q135.5 419.5 139 419.5H158Q162 419.5 162.5 413.5" fill="none" stroke="#000" stroke-width="1" style="shape-rendering:auto"/>
<rect x="110" y="427" width="50" height="19" rx="3.5" fill="#000" style="shape-rendering:auto"/>
<rect x="111.8" y="428.9" width="45.8" height="14.7" rx="2" fill="#fff" style="shape-rendering:auto"/>
<rect x="87" y="492" width="19" height="7" fill="#000"/>
<rect x="88" y="493" width="1" height="5" fill="#fff"/>
<rect x="93" y="493" width="2" height="5" fill="#fff"/>
<rect x="99" y="493" width="1" height="5" fill="#fff"/>
<rect x="101" y="494" width="3" height="3" fill="#fff"/>
<rect x="87" y="500" width="19" height="8" fill="#000"/>
<rect x="88" y="501" width="17" height="6" fill="#fff"/>
<rect x="89" y="502" width="4" height="4" fill="#000"/>
<rect x="95" y="502" width="4" height="4" fill="#000"/>
<rect x="101" y="502" width="4" height="4" fill="#000"/>
<rect x="102" y="503" width="2" height="2" fill="#fff"/>
<rect x="87" y="509" width="19" height="7" fill="#000"/>
<rect x="88" y="510" width="1" height="5" fill="#fff"/>
<rect x="93" y="510" width="2" height="5" fill="#fff"/>
<rect x="99" y="510" width="1" height="5" fill="#fff"/>
<rect x="101" y="511" width="3" height="3" fill="#fff"/>
<rect x="89" y="510" width="4" height="4" fill="#fff"/>
<rect x="90" y="510" width="2" height="3" fill="#000"/>
<rect x="87" y="517" width="19" height="7" fill="#000"/>
<rect x="88" y="518" width="1" height="5" fill="#fff"/>
<rect x="93" y="518" width="2" height="5" fill="#fff"/>
<rect x="99" y="518" width="1" height="5" fill="#fff"/>
<rect x="101" y="519" width="3" height="3" fill="#fff"/>
<polygon points="92.80,473.80 92.80,475.00 95.00,483.50 95.00,492.00 98.00,492.00 98.00,483.50 100.20,475.00 100.20,473.80" fill="#000" style="shape-rendering:auto"/>
<polygon points="75.07,494.63 75.90,495.50 82.61,500.53 86.41,504.53 88.59,502.47 84.79,498.47 80.10,491.50 79.28,490.63" fill="#000" style="shape-rendering:auto"/>
<polygon points="79.35,525.34 80.15,524.45 84.81,517.21 88.61,513.01 86.39,510.99 82.59,515.19 75.85,520.55 75.04,521.44" fill="#000" style="shape-rendering:auto"/>
<polygon points="99.20,544.20 99.20,543.00 97.00,533.50 97.00,524.00 94.00,524.00 94.00,533.50 91.80,543.00 91.80,544.20" fill="#000" style="shape-rendering:auto"/>
<rect x="76" y="457" width="43" height="18" rx="3.5" fill="#000" style="shape-rendering:auto"/>
<rect x="77.8" y="458.9" width="38.8" height="13.7" rx="2" fill="#fff" style="shape-rendering:auto"/>
<rect x="39" y="479" width="41" height="17" rx="3.5" fill="#000" style="shape-rendering:auto"/>
<rect x="40.8" y="480.9" width="36.8" height="12.7" rx="2" fill="#fff" style="shape-rendering:auto"/>
<rect x="39" y="521" width="41" height="18" rx="3.5" fill="#000" style="shape-rendering:auto"/>
<rect x="40.8" y="522.9" width="36.8" height="13.7" rx="2" fill="#fff" style="shape-rendering:auto"/>
<rect x="75" y="543" width="44" height="18" rx="3.5" fill="#000" style="shape-rendering:auto"/>
<rect x="76.8" y="544.9" width="39.8" height="13.7" rx="2" fill="#fff" style="shape-rendering:auto"/>
<rect x="192" y="470" width="19" height="8" fill="#000"/>
<rect x="193" y="471" width="17" height="6" fill="#fff"/>
<rect x="193" y="472" width="4" height="4" fill="#000"/>
<rect x="199" y="472" width="4" height="4" fill="#000"/>
<rect x="205" y="472" width="4" height="4" fill="#000"/>
<rect x="206" y="473" width="2" height="2" fill="#fff"/>
<rect x="192" y="479" width="19" height="7" fill="#000"/>
<rect x="197" y="480" width="2" height="5" fill="#fff"/>
<rect x="203" y="480" width="2" height="5" fill="#fff"/>
<rect x="206" y="481" width="2" height="3" fill="#fff"/>
<rect x="209" y="480" width="1" height="5" fill="#fff"/>
<polygon points="179.13,465.27 180.00,466.10 187.27,471.09 191.47,475.09 193.53,472.91 189.33,468.91 184.00,461.90 183.13,461.07" fill="#000" style="shape-rendering:auto"/>
<polygon points="174.39,485.66 175.59,485.70 183.95,483.75 192.25,484.00 192.35,481.00 184.05,480.75 175.81,478.30 174.61,478.27" fill="#000" style="shape-rendering:auto"/>
<rect x="143" y="448" width="42" height="19" rx="3.5" fill="#000" style="shape-rendering:auto"/>
<rect x="144.8" y="449.9" width="37.8" height="14.7" rx="2" fill="#fff" style="shape-rendering:auto"/>
<rect x="130" y="473" width="46" height="18" rx="3.5" fill="#000" style="shape-rendering:auto"/>
<rect x="131.8" y="474.9" width="41.8" height="13.7" rx="2" fill="#fff" style="shape-rendering:auto"/>
<rect x="221" y="466" width="8" height="19" fill="#000"/>
<rect x="222" y="467" width="6" height="17" fill="#fff"/>
<rect x="222" y="467" width="5" height="5" fill="#000"/>
<rect x="223" y="468" width="3" height="3" fill="#fff"/>
<rect x="222" y="473" width="5" height="4" fill="#000"/>
<rect x="222" y="479" width="5" height="4" fill="#000"/>
<rect x="237" y="424" width="278" height="15" fill="#000"/>
<rect x="238" y="425" width="276" height="13" fill="#fff"/>
<rect x="238" y="430" width="8" height="1" fill="#000"/>
<rect x="238" y="436" width="8" height="1" fill="#000"/>
<rect x="246" y="425" width="2" height="13" fill="#000"/>
<path d="M249 426H257V429H259V437H249Z" fill="#000" stroke="none" stroke-width="1"/>
<path d="M251 427H255V430H258V436H251Z" fill="#fff" stroke="none" stroke-width="1"/>
<rect x="251" y="430" width="4" height="1" fill="#000"/>
<rect x="506" y="430" width="8" height="1" fill="#000"/>
<rect x="506" y="436" width="8" height="1" fill="#000"/>
<rect x="504" y="425" width="2" height="13" fill="#000"/>
<path d="M503 426H495V429H493V437H503Z" fill="#000" stroke="none" stroke-width="1"/>
<path d="M501 427H497V430H494V436H501Z" fill="#fff" stroke="none" stroke-width="1"/>
<rect x="497" y="430" width="4" height="1" fill="#000"/>
<rect x="260" y="426" width="232" height="11" fill="#000"/>
<path d="M261 431h1v5h-1zM264 431h1v5h-1zM266 431h1v5h-1zM269 431h1v5h-1zM272 431h1v5h-1zM274 431h1v5h-1zM277 431h1v5h-1zM282 431h1v5h-1zM285 431h1v5h-1zM288 431h1v5h-1zM290 431h1v5h-1zM293 431h1v5h-1zM296 431h1v5h-1zM299 431h1v5h-1zM301 431h1v5h-1zM304 431h1v5h-1zM307 431h1v5h-1zM309 431h1v5h-1zM312 431h1v5h-1zM315 431h1v5h-1zM317 431h1v5h-1zM320 431h1v5h-1zM323 431h1v5h-1zM325 431h1v5h-1zM328 431h1v5h-1zM331 431h1v5h-1zM333 431h1v5h-1zM336 431h1v5h-1zM339 431h1v5h-1zM341 431h1v5h-1zM344 431h1v5h-1zM347 431h1v5h-1zM349 431h1v5h-1zM352 431h1v5h-1zM355 431h1v5h-1zM357 431h1v5h-1zM360 431h1v5h-1zM363 431h1v5h-1zM366 431h1v5h-1zM368 431h1v5h-1zM371 431h1v5h-1zM374 431h1v5h-1zM376 431h1v5h-1zM379 431h1v5h-1zM382 431h1v5h-1zM384 431h1v5h-1zM387 431h1v5h-1zM390 431h1v5h-1zM392 431h1v5h-1zM395 431h1v5h-1zM398 431h1v5h-1zM400 431h1v5h-1zM403 431h1v5h-1zM406 431h1v5h-1zM408 431h1v5h-1zM411 431h1v5h-1zM414 431h1v5h-1zM416 431h1v5h-1zM419 431h1v5h-1zM422 431h1v5h-1zM424 431h1v5h-1zM427 431h1v5h-1zM430 431h1v5h-1zM433 431h1v5h-1zM435 431h1v5h-1zM438 431h1v5h-1zM441 431h1v5h-1zM443 431h1v5h-1zM446 431h1v5h-1zM449 431h1v5h-1zM451 431h1v5h-1zM454 431h1v5h-1zM457 431h1v5h-1zM459 431h1v5h-1zM462 431h1v5h-1zM465 431h1v5h-1zM467 431h1v5h-1zM470 431h1v5h-1zM473 431h1v5h-1zM475 431h1v5h-1zM478 431h1v5h-1zM481 431h1v5h-1zM483 431h1v5h-1zM486 431h1v5h-1zM489 431h1v5h-1z" fill="#fff" stroke="none" stroke-width="1"/>
<rect x="372" y="425" width="8" height="5" fill="#fff"/>
<rect x="237" y="441" width="278" height="15" fill="#000"/>
<rect x="238" y="442" width="276" height="13" fill="#fff"/>
<rect x="238" y="447" width="8" height="1" fill="#000"/>
<rect x="238" y="453" width="8" height="1" fill="#000"/>
<rect x="246" y="442" width="2" height="13" fill="#000"/>
<path d="M249 443H257V446H259V454H249Z" fill="#000" stroke="none" stroke-width="1"/>
<path d="M251 444H255V447H258V453H251Z" fill="#fff" stroke="none" stroke-width="1"/>
<rect x="251" y="447" width="4" height="1" fill="#000"/>
<rect x="506" y="447" width="8" height="1" fill="#000"/>
<rect x="506" y="453" width="8" height="1" fill="#000"/>
<rect x="504" y="442" width="2" height="13" fill="#000"/>
<path d="M503 443H495V446H493V454H503Z" fill="#000" stroke="none" stroke-width="1"/>
<path d="M501 444H497V447H494V453H501Z" fill="#fff" stroke="none" stroke-width="1"/>
<rect x="497" y="447" width="4" height="1" fill="#000"/>
<rect x="260" y="443" width="232" height="11" fill="#000"/>
<path d="M261 448h1v5h-1zM264 448h1v5h-1zM266 448h1v5h-1zM269 448h1v5h-1zM272 448h1v5h-1zM274 448h1v5h-1zM277 448h1v5h-1zM282 448h1v5h-1zM285 448h1v5h-1zM288 448h1v5h-1zM290 448h1v5h-1zM293 448h1v5h-1zM296 448h1v5h-1zM299 448h1v5h-1zM301 448h1v5h-1zM304 448h1v5h-1zM307 448h1v5h-1zM309 448h1v5h-1zM312 448h1v5h-1zM315 448h1v5h-1zM317 448h1v5h-1zM320 448h1v5h-1zM323 448h1v5h-1zM325 448h1v5h-1zM328 448h1v5h-1zM331 448h1v5h-1zM333 448h1v5h-1zM336 448h1v5h-1zM339 448h1v5h-1zM341 448h1v5h-1zM344 448h1v5h-1zM347 448h1v5h-1zM349 448h1v5h-1zM352 448h1v5h-1zM355 448h1v5h-1zM357 448h1v5h-1zM360 448h1v5h-1zM363 448h1v5h-1zM366 448h1v5h-1zM368 448h1v5h-1zM371 448h1v5h-1zM374 448h1v5h-1zM376 448h1v5h-1zM379 448h1v5h-1zM382 448h1v5h-1zM384 448h1v5h-1zM387 448h1v5h-1zM390 448h1v5h-1zM392 448h1v5h-1zM395 448h1v5h-1zM398 448h1v5h-1zM400 448h1v5h-1zM403 448h1v5h-1zM406 448h1v5h-1zM408 448h1v5h-1zM411 448h1v5h-1zM414 448h1v5h-1zM416 448h1v5h-1zM419 448h1v5h-1zM422 448h1v5h-1zM424 448h1v5h-1zM427 448h1v5h-1zM430 448h1v5h-1zM433 448h1v5h-1zM435 448h1v5h-1zM438 448h1v5h-1zM441 448h1v5h-1zM443 448h1v5h-1zM446 448h1v5h-1zM449 448h1v5h-1zM451 448h1v5h-1zM454 448h1v5h-1zM457 448h1v5h-1zM459 448h1v5h-1zM462 448h1v5h-1zM465 448h1v5h-1zM467 448h1v5h-1zM470 448h1v5h-1zM473 448h1v5h-1zM475 448h1v5h-1zM478 448h1v5h-1zM481 448h1v5h-1zM483 448h1v5h-1zM486 448h1v5h-1zM489 448h1v5h-1z" fill="#fff" stroke="none" stroke-width="1"/>
<rect x="372" y="449" width="8" height="6" fill="#fff"/>
<rect x="237" y="457" width="278" height="16" fill="#000"/>
<rect x="238" y="458" width="276" height="14" fill="#fff"/>
<rect x="238" y="463" width="8" height="1" fill="#000"/>
<rect x="238" y="469" width="8" height="1" fill="#000"/>
<rect x="246" y="458" width="2" height="14" fill="#000"/>
<path d="M249 459H257V462H259V471H249Z" fill="#000" stroke="none" stroke-width="1"/>
<path d="M251 460H255V463H258V470H251Z" fill="#fff" stroke="none" stroke-width="1"/>
<rect x="251" y="463" width="4" height="1" fill="#000"/>
<rect x="506" y="463" width="8" height="1" fill="#000"/>
<rect x="506" y="469" width="8" height="1" fill="#000"/>
<rect x="504" y="458" width="2" height="14" fill="#000"/>
<path d="M503 459H495V462H493V471H503Z" fill="#000" stroke="none" stroke-width="1"/>
<path d="M501 460H497V463H494V470H501Z" fill="#fff" stroke="none" stroke-width="1"/>
<rect x="497" y="463" width="4" height="1" fill="#000"/>
<rect x="260" y="459" width="232" height="12" fill="#000"/>
<path d="M261 464h1v6h-1zM264 464h1v6h-1zM266 464h1v6h-1zM269 464h1v6h-1zM272 464h1v6h-1zM274 464h1v6h-1zM277 464h1v6h-1zM282 464h1v6h-1zM285 464h1v6h-1zM288 464h1v6h-1zM290 464h1v6h-1zM293 464h1v6h-1zM296 464h1v6h-1zM299 464h1v6h-1zM301 464h1v6h-1zM304 464h1v6h-1zM307 464h1v6h-1zM309 464h1v6h-1zM312 464h1v6h-1zM315 464h1v6h-1zM317 464h1v6h-1zM320 464h1v6h-1zM323 464h1v6h-1zM325 464h1v6h-1zM328 464h1v6h-1zM331 464h1v6h-1zM333 464h1v6h-1zM336 464h1v6h-1zM339 464h1v6h-1zM341 464h1v6h-1zM344 464h1v6h-1zM347 464h1v6h-1zM349 464h1v6h-1zM352 464h1v6h-1zM355 464h1v6h-1zM357 464h1v6h-1zM360 464h1v6h-1zM363 464h1v6h-1zM366 464h1v6h-1zM368 464h1v6h-1zM371 464h1v6h-1zM374 464h1v6h-1zM376 464h1v6h-1zM379 464h1v6h-1zM382 464h1v6h-1zM384 464h1v6h-1zM387 464h1v6h-1zM390 464h1v6h-1zM392 464h1v6h-1zM395 464h1v6h-1zM398 464h1v6h-1zM400 464h1v6h-1zM403 464h1v6h-1zM406 464h1v6h-1zM408 464h1v6h-1zM411 464h1v6h-1zM414 464h1v6h-1zM416 464h1v6h-1zM419 464h1v6h-1zM422 464h1v6h-1zM424 464h1v6h-1zM427 464h1v6h-1zM430 464h1v6h-1zM433 464h1v6h-1zM435 464h1v6h-1zM438 464h1v6h-1zM441 464h1v6h-1zM443 464h1v6h-1zM446 464h1v6h-1zM449 464h1v6h-1zM451 464h1v6h-1zM454 464h1v6h-1zM457 464h1v6h-1zM459 464h1v6h-1zM462 464h1v6h-1zM465 464h1v6h-1zM467 464h1v6h-1zM470 464h1v6h-1zM473 464h1v6h-1zM475 464h1v6h-1zM478 464h1v6h-1zM481 464h1v6h-1zM483 464h1v6h-1zM486 464h1v6h-1zM489 464h1v6h-1z" fill="#fff" stroke="none" stroke-width="1"/>
<rect x="372" y="458" width="8" height="5" fill="#fff"/>
<rect x="237" y="474" width="278" height="16" fill="#000"/>
<rect x="238" y="475" width="276" height="14" fill="#fff"/>
<rect x="238" y="480" width="8" height="1" fill="#000"/>
<rect x="238" y="486" width="8" height="1" fill="#000"/>
<rect x="246" y="475" width="2" height="14" fill="#000"/>
<path d="M249 476H257V479H259V488H249Z" fill="#000" stroke="none" stroke-width="1"/>
<path d="M251 477H255V480H258V487H251Z" fill="#fff" stroke="none" stroke-width="1"/>
<rect x="251" y="480" width="4" height="1" fill="#000"/>
<rect x="506" y="480" width="8" height="1" fill="#000"/>
<rect x="506" y="486" width="8" height="1" fill="#000"/>
<rect x="504" y="475" width="2" height="14" fill="#000"/>
<path d="M503 476H495V479H493V488H503Z" fill="#000" stroke="none" stroke-width="1"/>
<path d="M501 477H497V480H494V487H501Z" fill="#fff" stroke="none" stroke-width="1"/>
<rect x="497" y="480" width="4" height="1" fill="#000"/>
<rect x="260" y="476" width="232" height="12" fill="#000"/>
<path d="M261 481h1v6h-1zM264 481h1v6h-1zM266 481h1v6h-1zM269 481h1v6h-1zM272 481h1v6h-1zM274 481h1v6h-1zM277 481h1v6h-1zM282 481h1v6h-1zM285 481h1v6h-1zM288 481h1v6h-1zM290 481h1v6h-1zM293 481h1v6h-1zM296 481h1v6h-1zM299 481h1v6h-1zM301 481h1v6h-1zM304 481h1v6h-1zM307 481h1v6h-1zM309 481h1v6h-1zM312 481h1v6h-1zM315 481h1v6h-1zM317 481h1v6h-1zM320 481h1v6h-1zM323 481h1v6h-1zM325 481h1v6h-1zM328 481h1v6h-1zM331 481h1v6h-1zM333 481h1v6h-1zM336 481h1v6h-1zM339 481h1v6h-1zM341 481h1v6h-1zM344 481h1v6h-1zM347 481h1v6h-1zM349 481h1v6h-1zM352 481h1v6h-1zM355 481h1v6h-1zM357 481h1v6h-1zM360 481h1v6h-1zM363 481h1v6h-1zM366 481h1v6h-1zM368 481h1v6h-1zM371 481h1v6h-1zM374 481h1v6h-1zM376 481h1v6h-1zM379 481h1v6h-1zM382 481h1v6h-1zM384 481h1v6h-1zM387 481h1v6h-1zM390 481h1v6h-1zM392 481h1v6h-1zM395 481h1v6h-1zM398 481h1v6h-1zM400 481h1v6h-1zM403 481h1v6h-1zM406 481h1v6h-1zM408 481h1v6h-1zM411 481h1v6h-1zM414 481h1v6h-1zM416 481h1v6h-1zM419 481h1v6h-1zM422 481h1v6h-1zM424 481h1v6h-1zM427 481h1v6h-1zM430 481h1v6h-1zM433 481h1v6h-1zM435 481h1v6h-1zM438 481h1v6h-1zM441 481h1v6h-1zM443 481h1v6h-1zM446 481h1v6h-1zM449 481h1v6h-1zM451 481h1v6h-1zM454 481h1v6h-1zM457 481h1v6h-1zM459 481h1v6h-1zM462 481h1v6h-1zM465 481h1v6h-1zM467 481h1v6h-1zM470 481h1v6h-1zM473 481h1v6h-1zM475 481h1v6h-1zM478 481h1v6h-1zM481 481h1v6h-1zM483 481h1v6h-1zM486 481h1v6h-1zM489 481h1v6h-1z" fill="#fff" stroke="none" stroke-width="1"/>
<rect x="372" y="482" width="8" height="7" fill="#fff"/>
<rect x="193" y="494" width="322" height="16" fill="#000"/>
<rect x="194" y="495" width="320" height="14" fill="#fff"/>
<rect x="194" y="500" width="8" height="1" fill="#000"/>
<rect x="194" y="506" width="8" height="1" fill="#000"/>
<rect x="202" y="495" width="2" height="14" fill="#000"/>
<path d="M205 496H213V499H215V508H205Z" fill="#000" stroke="none" stroke-width="1"/>
<path d="M207 497H211V500H214V507H207Z" fill="#fff" stroke="none" stroke-width="1"/>
<rect x="207" y="500" width="4" height="1" fill="#000"/>
<rect x="506" y="500" width="8" height="1" fill="#000"/>
<rect x="506" y="506" width="8" height="1" fill="#000"/>
<rect x="504" y="495" width="2" height="14" fill="#000"/>
<path d="M503 496H495V499H493V508H503Z" fill="#000" stroke="none" stroke-width="1"/>
<path d="M501 497H497V500H494V507H501Z" fill="#fff" stroke="none" stroke-width="1"/>
<rect x="497" y="500" width="4" height="1" fill="#000"/>
<rect x="217" y="496" width="274" height="12" fill="#000"/>
<path d="M219 502h1v5h-1zM222 502h1v5h-1zM224 502h1v5h-1zM227 502h1v5h-1zM230 502h1v5h-1zM232 502h1v5h-1zM235 502h1v5h-1zM238 502h1v5h-1zM240 502h1v5h-1zM243 502h1v5h-1zM246 502h1v5h-1zM248 502h1v5h-1zM251 502h1v5h-1zM254 502h1v5h-1zM257 502h1v5h-1zM259 502h1v5h-1zM262 502h1v5h-1zM265 502h1v5h-1zM267 502h1v5h-1zM270 502h1v5h-1zM273 502h1v5h-1zM275 502h1v5h-1zM278 502h1v5h-1zM281 502h1v5h-1zM283 502h1v5h-1zM286 502h1v5h-1zM291 502h1v5h-1zM294 502h1v5h-1zM297 502h1v5h-1zM299 502h1v5h-1zM302 502h1v5h-1zM305 502h1v5h-1zM307 502h1v5h-1zM310 502h1v5h-1zM313 502h1v5h-1zM315 502h1v5h-1zM318 502h1v5h-1zM321 502h1v5h-1zM324 502h1v5h-1zM326 502h1v5h-1zM329 502h1v5h-1zM332 502h1v5h-1zM334 502h1v5h-1zM337 502h1v5h-1zM340 502h1v5h-1zM342 502h1v5h-1zM345 502h1v5h-1zM348 502h1v5h-1zM350 502h1v5h-1zM353 502h1v5h-1zM356 502h1v5h-1zM358 502h1v5h-1zM361 502h1v5h-1zM364 502h1v5h-1zM366 502h1v5h-1zM369 502h1v5h-1zM372 502h1v5h-1zM374 502h1v5h-1zM377 502h1v5h-1zM380 502h1v5h-1zM382 502h1v5h-1zM385 502h1v5h-1zM388 502h1v5h-1zM391 502h1v5h-1zM393 502h1v5h-1zM396 502h1v5h-1zM399 502h1v5h-1zM401 502h1v5h-1zM404 502h1v5h-1zM407 502h1v5h-1zM409 502h1v5h-1zM412 502h1v5h-1zM415 502h1v5h-1zM417 502h1v5h-1zM420 502h1v5h-1zM423 502h1v5h-1zM425 502h1v5h-1zM428 502h1v5h-1zM431 502h1v5h-1zM433 502h1v5h-1zM436 502h1v5h-1zM439 502h1v5h-1zM441 502h1v5h-1zM444 502h1v5h-1zM447 502h1v5h-1zM449 502h1v5h-1zM452 502h1v5h-1zM455 502h1v5h-1zM458 502h1v5h-1zM460 502h1v5h-1zM463 502h1v5h-1zM466 502h1v5h-1zM468 502h1v5h-1zM471 502h1v5h-1zM474 502h1v5h-1zM476 502h1v5h-1zM479 502h1v5h-1zM482 502h1v5h-1zM484 502h1v5h-1zM487 502h1v5h-1zM490 502h1v5h-1z" fill="#fff" stroke="none" stroke-width="1"/>
<rect x="449" y="495" width="7" height="14" fill="#fff"/>
<rect x="193" y="515" width="322" height="16" fill="#000"/>
<rect x="194" y="516" width="320" height="14" fill="#fff"/>
<rect x="194" y="521" width="8" height="1" fill="#000"/>
<rect x="194" y="527" width="8" height="1" fill="#000"/>
<rect x="202" y="516" width="2" height="14" fill="#000"/>
<path d="M205 517H213V520H215V529H205Z" fill="#000" stroke="none" stroke-width="1"/>
<path d="M207 518H211V521H214V528H207Z" fill="#fff" stroke="none" stroke-width="1"/>
<rect x="207" y="521" width="4" height="1" fill="#000"/>
<rect x="506" y="521" width="8" height="1" fill="#000"/>
<rect x="506" y="527" width="8" height="1" fill="#000"/>
<rect x="504" y="516" width="2" height="14" fill="#000"/>
<path d="M503 517H495V520H493V529H503Z" fill="#000" stroke="none" stroke-width="1"/>
<path d="M501 518H497V521H494V528H501Z" fill="#fff" stroke="none" stroke-width="1"/>
<rect x="497" y="521" width="4" height="1" fill="#000"/>
<rect x="217" y="517" width="274" height="12" fill="#000"/>
<path d="M219 523h1v5h-1zM222 523h1v5h-1zM224 523h1v5h-1zM227 523h1v5h-1zM230 523h1v5h-1zM232 523h1v5h-1zM235 523h1v5h-1zM238 523h1v5h-1zM240 523h1v5h-1zM243 523h1v5h-1zM246 523h1v5h-1zM248 523h1v5h-1zM251 523h1v5h-1zM254 523h1v5h-1zM257 523h1v5h-1zM259 523h1v5h-1zM262 523h1v5h-1zM265 523h1v5h-1zM267 523h1v5h-1zM270 523h1v5h-1zM273 523h1v5h-1zM275 523h1v5h-1zM278 523h1v5h-1zM281 523h1v5h-1zM283 523h1v5h-1zM286 523h1v5h-1zM291 523h1v5h-1zM294 523h1v5h-1zM297 523h1v5h-1zM299 523h1v5h-1zM302 523h1v5h-1zM305 523h1v5h-1zM307 523h1v5h-1zM310 523h1v5h-1zM313 523h1v5h-1zM315 523h1v5h-1zM318 523h1v5h-1zM321 523h1v5h-1zM324 523h1v5h-1zM326 523h1v5h-1zM329 523h1v5h-1zM332 523h1v5h-1zM334 523h1v5h-1zM337 523h1v5h-1zM340 523h1v5h-1zM342 523h1v5h-1zM345 523h1v5h-1zM348 523h1v5h-1zM350 523h1v5h-1zM353 523h1v5h-1zM356 523h1v5h-1zM358 523h1v5h-1zM361 523h1v5h-1zM364 523h1v5h-1zM366 523h1v5h-1zM369 523h1v5h-1zM372 523h1v5h-1zM374 523h1v5h-1zM377 523h1v5h-1zM380 523h1v5h-1zM382 523h1v5h-1zM385 523h1v5h-1zM388 523h1v5h-1zM391 523h1v5h-1zM393 523h1v5h-1zM396 523h1v5h-1zM399 523h1v5h-1zM401 523h1v5h-1zM404 523h1v5h-1zM407 523h1v5h-1zM409 523h1v5h-1zM412 523h1v5h-1zM415 523h1v5h-1zM417 523h1v5h-1zM420 523h1v5h-1zM423 523h1v5h-1zM425 523h1v5h-1zM428 523h1v5h-1zM431 523h1v5h-1zM433 523h1v5h-1zM436 523h1v5h-1zM439 523h1v5h-1zM441 523h1v5h-1zM444 523h1v5h-1zM447 523h1v5h-1zM449 523h1v5h-1zM452 523h1v5h-1zM455 523h1v5h-1zM458 523h1v5h-1zM460 523h1v5h-1zM463 523h1v5h-1zM466 523h1v5h-1zM468 523h1v5h-1zM471 523h1v5h-1zM474 523h1v5h-1zM476 523h1v5h-1zM479 523h1v5h-1zM482 523h1v5h-1zM484 523h1v5h-1zM487 523h1v5h-1zM490 523h1v5h-1z" fill="#fff" stroke="none" stroke-width="1"/>
<rect x="449" y="516" width="7" height="14" fill="#fff"/>
<polygon points="220.80,448.20 220.80,449.40 223.00,457.70 223.00,466.00 226.00,466.00 226.00,457.70 228.20,449.40 228.20,448.20" fill="#000" style="shape-rendering:auto"/>
<rect x="208" y="431" width="34" height="19" rx="3.5" fill="#000" style="shape-rendering:auto"/>
<rect x="209.8" y="432.9" width="29.8" height="14.7" rx="2" fill="#fff" style="shape-rendering:auto"/>
<rect x="348" y="432" width="56" height="16" rx="1.5" fill="#fff" style="shape-rendering:auto"/>
<rect x="348" y="466" width="56" height="16" rx="1.5" fill="#fff" style="shape-rendering:auto"/>
<rect x="325" y="493" width="58" height="18" rx="3.5" fill="#000" style="shape-rendering:auto"/>
<rect x="326.8" y="494.9" width="53.8" height="13.7" rx="2" fill="#fff" style="shape-rendering:auto"/>
<rect x="325" y="513" width="58" height="19" rx="3.5" fill="#000" style="shape-rendering:auto"/>
<rect x="326.8" y="514.9" width="53.8" height="14.7" rx="2" fill="#fff" style="shape-rendering:auto"/>
<rect x="430" y="222" width="176" height="19" fill="#000"/>
<rect x="437" y="229" width="33" height="6" fill="#fff"/>
<rect x="479" y="229" width="22" height="6" fill="#fff"/>
<rect x="534" y="229" width="65" height="6" fill="#fff"/>
<rect x="504" y="225" width="28" height="14" fill="#fff"/>
<rect x="430" y="267" width="176" height="19" fill="#000"/>
<rect x="437" y="273" width="33" height="6" fill="#fff"/>
<rect x="479" y="273" width="22" height="6" fill="#fff"/>
<rect x="534" y="273" width="65" height="6" fill="#fff"/>
<rect x="504" y="269" width="28" height="14" fill="#fff"/>
<rect x="430" y="312" width="176" height="19" fill="#000"/>
<rect x="437" y="318" width="33" height="6" fill="#fff"/>
<rect x="479" y="318" width="22" height="6" fill="#fff"/>
<rect x="534" y="318" width="65" height="6" fill="#fff"/>
<rect x="504" y="314" width="28" height="14" fill="#fff"/>
<rect x="430" y="356" width="176" height="19" fill="#000"/>
<rect x="437" y="363" width="33" height="5" fill="#fff"/>
<rect x="479" y="363" width="22" height="5" fill="#fff"/>
<rect x="534" y="363" width="65" height="5" fill="#fff"/>
<rect x="504" y="358" width="28" height="15" fill="#fff"/>
<rect x="561" y="245" width="19" height="8" fill="#000"/>
<rect x="562" y="247" width="5" height="1" fill="#fff"/>
<rect x="566" y="247" width="1" height="4" fill="#fff"/>
<rect x="562" y="250" width="5" height="1" fill="#fff"/>
<rect x="570" y="247" width="1" height="4" fill="#fff"/>
<rect x="575" y="248" width="2" height="3" fill="#fff"/>
<polygon points="595.30,245.80 594.10,245.80 586.45,248.00 578.80,248.00 578.80,251.00 586.45,251.00 594.10,253.20 595.30,253.20" fill="#000" style="shape-rendering:auto"/>
<rect x="594" y="240" width="36" height="19" rx="3.5" fill="#000" style="shape-rendering:auto"/>
<rect x="595.8" y="241.9" width="31.8" height="14.7" rx="2" fill="#fff" style="shape-rendering:auto"/>
<rect x="536" y="336" width="55" height="13" fill="#000"/>
<rect x="537" y="337" width="53" height="11" fill="#fff"/>
<rect x="538" y="338" width="4" height="4" fill="#000"/>
<rect x="538" y="343" width="4" height="5" fill="#000"/>
<rect x="543" y="338" width="4" height="4" fill="#000"/>
<rect x="543" y="343" width="4" height="5" fill="#000"/>
<rect x="548" y="338" width="4" height="4" fill="#000"/>
<rect x="548" y="343" width="4" height="5" fill="#000"/>
<rect x="554" y="338" width="3" height="4" fill="#000"/>
<rect x="554" y="343" width="3" height="5" fill="#000"/>
<rect x="559" y="338" width="3" height="4" fill="#000"/>
<rect x="559" y="343" width="3" height="5" fill="#000"/>
<rect x="564" y="338" width="4" height="4" fill="#000"/>
<rect x="564" y="343" width="4" height="5" fill="#000"/>
<rect x="569" y="338" width="4" height="4" fill="#000"/>
<rect x="569" y="343" width="4" height="5" fill="#000"/>
<rect x="574" y="338" width="4" height="4" fill="#000"/>
<rect x="574" y="343" width="4" height="5" fill="#000"/>
<rect x="580" y="338" width="3" height="4" fill="#000"/>
<rect x="580" y="343" width="3" height="5" fill="#000"/>
<rect x="585" y="338" width="3" height="4" fill="#000"/>
<rect x="585" y="343" width="3" height="5" fill="#000"/>
<rect x="586" y="344" width="1" height="3" fill="#fff"/>
<polygon points="606.60,338.80 605.40,338.80 598.20,341.00 591.00,341.00 591.00,344.00 598.20,344.00 605.40,346.20 606.60,346.20" fill="#000" style="shape-rendering:auto"/>
<rect x="605" y="334" width="26" height="17" rx="3.5" fill="#000" style="shape-rendering:auto"/>
<rect x="606.8" y="335.9" width="21.8" height="12.7" rx="2" fill="#fff" style="shape-rendering:auto"/>
<rect x="553" y="396" width="78" height="13" fill="#000"/>
<rect x="554" y="397" width="76" height="11" fill="#fff"/>
<rect x="555" y="398" width="4" height="4" fill="#000"/>
<rect x="555" y="403" width="4" height="5" fill="#000"/>
<rect x="561" y="398" width="4" height="4" fill="#000"/>
<rect x="561" y="403" width="4" height="5" fill="#000"/>
<rect x="567" y="398" width="4" height="4" fill="#000"/>
<rect x="567" y="403" width="4" height="5" fill="#000"/>
<rect x="572" y="398" width="5" height="4" fill="#000"/>
<rect x="572" y="403" width="5" height="5" fill="#000"/>
<rect x="578" y="398" width="4" height="4" fill="#000"/>
<rect x="578" y="403" width="4" height="5" fill="#000"/>
<rect x="584" y="398" width="4" height="4" fill="#000"/>
<rect x="584" y="403" width="4" height="5" fill="#000"/>
<rect x="590" y="398" width="4" height="4" fill="#000"/>
<rect x="590" y="403" width="4" height="5" fill="#000"/>
<rect x="595" y="398" width="5" height="4" fill="#000"/>
<rect x="595" y="403" width="5" height="5" fill="#000"/>
<rect x="601" y="398" width="4" height="4" fill="#000"/>
<rect x="601" y="403" width="4" height="5" fill="#000"/>
<rect x="607" y="398" width="4" height="4" fill="#000"/>
<rect x="607" y="403" width="4" height="5" fill="#000"/>
<rect x="613" y="398" width="4" height="4" fill="#000"/>
<rect x="613" y="403" width="4" height="5" fill="#000"/>
<rect x="618" y="398" width="5" height="4" fill="#000"/>
<rect x="618" y="403" width="5" height="5" fill="#000"/>
<rect x="624" y="398" width="4" height="4" fill="#000"/>
<rect x="624" y="403" width="4" height="5" fill="#000"/>
<rect x="625" y="399" width="2" height="2" fill="#fff"/>
<polygon points="597.80,379.50 597.80,380.70 600.00,388.60 600.00,396.50 603.00,396.50 603.00,388.60 605.20,380.70 605.20,379.50" fill="#000" style="shape-rendering:auto"/>
<rect x="586" y="362" width="33" height="19" rx="3.5" fill="#000" style="shape-rendering:auto"/>
<rect x="587.8" y="363.9" width="28.8" height="14.7" rx="2" fill="#fff" style="shape-rendering:auto"/>
<rect x="442" y="396" width="102" height="13" fill="#000"/>
<rect x="443" y="397" width="100" height="11" fill="#fff"/>
<rect x="444" y="398" width="4" height="4" fill="#000"/>
<rect x="444" y="403" width="4" height="5" fill="#000"/>
<rect x="450" y="398" width="4" height="4" fill="#000"/>
<rect x="450" y="403" width="4" height="5" fill="#000"/>
<rect x="456" y="398" width="4" height="4" fill="#000"/>
<rect x="456" y="403" width="4" height="5" fill="#000"/>
<rect x="461" y="398" width="5" height="4" fill="#000"/>
<rect x="461" y="403" width="5" height="5" fill="#000"/>
<rect x="467" y="398" width="5" height="4" fill="#000"/>
<rect x="467" y="403" width="5" height="5" fill="#000"/>
<rect x="473" y="398" width="4" height="4" fill="#000"/>
<rect x="473" y="403" width="4" height="5" fill="#000"/>
<rect x="479" y="398" width="4" height="4" fill="#000"/>
<rect x="479" y="403" width="4" height="5" fill="#000"/>
<rect x="485" y="398" width="4" height="4" fill="#000"/>
<rect x="485" y="403" width="4" height="5" fill="#000"/>
<rect x="491" y="398" width="4" height="4" fill="#000"/>
<rect x="491" y="403" width="4" height="5" fill="#000"/>
<rect x="496" y="398" width="5" height="4" fill="#000"/>
<rect x="496" y="403" width="5" height="5" fill="#000"/>
<rect x="502" y="398" width="5" height="4" fill="#000"/>
<rect x="502" y="403" width="5" height="5" fill="#000"/>
<rect x="508" y="398" width="4" height="4" fill="#000"/>
<rect x="508" y="403" width="4" height="5" fill="#000"/>
<rect x="514" y="398" width="4" height="4" fill="#000"/>
<rect x="514" y="403" width="4" height="5" fill="#000"/>
<rect x="520" y="398" width="4" height="4" fill="#000"/>
<rect x="520" y="403" width="4" height="5" fill="#000"/>
<rect x="526" y="398" width="4" height="4" fill="#000"/>
<rect x="526" y="403" width="4" height="5" fill="#000"/>
<rect x="531" y="398" width="5" height="4" fill="#000"/>
<rect x="531" y="403" width="5" height="5" fill="#000"/>
<rect x="537" y="398" width="5" height="4" fill="#000"/>
<rect x="537" y="403" width="5" height="5" fill="#000"/>
<rect x="538" y="399" width="3" height="2" fill="#fff"/>
<polygon points="501.70,426.70 501.70,425.50 499.50,417.25 499.50,409.00 496.50,409.00 496.50,417.25 494.30,425.50 494.30,426.70" fill="#000" style="shape-rendering:auto"/>
<rect x="481" y="425" width="34" height="18" rx="3.5" fill="#000" style="shape-rendering:auto"/>
<rect x="482.8" y="426.9" width="29.8" height="13.7" rx="2" fill="#fff" style="shape-rendering:auto"/>
<rect x="642" y="383" width="31" height="13" fill="#000"/>
<rect x="643" y="384" width="29" height="11" fill="#fff"/>
<rect x="644" y="385" width="4" height="4" fill="#000"/>
<rect x="644" y="390" width="4" height="5" fill="#000"/>
<rect x="650" y="385" width="4" height="4" fill="#000"/>
<rect x="650" y="390" width="4" height="5" fill="#000"/>
<rect x="655" y="385" width="4" height="4" fill="#000"/>
<rect x="655" y="390" width="4" height="5" fill="#000"/>
<rect x="661" y="385" width="4" height="4" fill="#000"/>
<rect x="661" y="390" width="4" height="5" fill="#000"/>
<rect x="666" y="385" width="4" height="4" fill="#000"/>
<rect x="666" y="390" width="4" height="5" fill="#000"/>
<rect x="667" y="386" width="2" height="2" fill="#fff"/>
<rect x="642" y="400" width="31" height="13" fill="#000"/>
<rect x="643" y="401" width="29" height="11" fill="#fff"/>
<rect x="644" y="402" width="4" height="4" fill="#000"/>
<rect x="644" y="407" width="4" height="5" fill="#000"/>
<rect x="650" y="402" width="4" height="4" fill="#000"/>
<rect x="650" y="407" width="4" height="5" fill="#000"/>
<rect x="655" y="402" width="4" height="4" fill="#000"/>
<rect x="655" y="407" width="4" height="5" fill="#000"/>
<rect x="661" y="402" width="4" height="4" fill="#000"/>
<rect x="661" y="407" width="4" height="5" fill="#000"/>
<rect x="666" y="402" width="4" height="4" fill="#000"/>
<rect x="666" y="407" width="4" height="5" fill="#000"/>
<rect x="667" y="403" width="2" height="2" fill="#fff"/>
<polygon points="680.72,377.63 679.90,378.50 675.21,385.47 671.41,389.47 673.59,391.53 677.39,387.53 684.10,382.50 684.93,381.63" fill="#000" style="shape-rendering:auto"/>
<polygon points="689.00,402.80 687.80,402.80 680.40,405.00 673.00,405.00 673.00,408.00 680.40,408.00 687.80,410.20 689.00,410.20" fill="#000" style="shape-rendering:auto"/>
<rect x="679" y="366" width="35" height="19" rx="3.5" fill="#000" style="shape-rendering:auto"/>
<rect x="680.8" y="367.9" width="30.8" height="14.7" rx="2" fill="#fff" style="shape-rendering:auto"/>
<rect x="688" y="397" width="35" height="19" rx="3.5" fill="#000" style="shape-rendering:auto"/>
<rect x="689.8" y="398.9" width="30.8" height="14.7" rx="2" fill="#fff" style="shape-rendering:auto"/>
<rect x="527" y="469" width="48" height="13" fill="#000"/>
<rect x="528" y="470" width="46" height="11" fill="#fff"/>
<rect x="529" y="471" width="4" height="4" fill="#000"/>
<rect x="529" y="476" width="4" height="5" fill="#000"/>
<rect x="535" y="471" width="4" height="4" fill="#000"/>
<rect x="535" y="476" width="4" height="5" fill="#000"/>
<rect x="540" y="471" width="4" height="4" fill="#000"/>
<rect x="540" y="476" width="4" height="5" fill="#000"/>
<rect x="546" y="471" width="4" height="4" fill="#000"/>
<rect x="546" y="476" width="4" height="5" fill="#000"/>
<rect x="552" y="471" width="4" height="4" fill="#000"/>
<rect x="552" y="476" width="4" height="5" fill="#000"/>
<rect x="557" y="471" width="4" height="4" fill="#000"/>
<rect x="557" y="476" width="4" height="5" fill="#000"/>
<rect x="563" y="471" width="4" height="4" fill="#000"/>
<rect x="563" y="476" width="4" height="5" fill="#000"/>
<rect x="568" y="471" width="4" height="4" fill="#000"/>
<rect x="568" y="476" width="4" height="5" fill="#000"/>
<rect x="569" y="472" width="2" height="2" fill="#fff"/>
<polygon points="547.30,451.10 547.30,452.30 549.50,460.65 549.50,469.00 552.50,469.00 552.50,460.65 554.70,452.30 554.70,451.10" fill="#000" style="shape-rendering:auto"/>
<rect x="535" y="434" width="34" height="19" rx="3.5" fill="#000" style="shape-rendering:auto"/>
<rect x="536.8" y="435.9" width="29.8" height="14.7" rx="2" fill="#fff" style="shape-rendering:auto"/>
<polygon points="572.70,496.20 573.90,496.20 580.95,494.00 588.00,494.00 588.00,491.00 580.95,491.00 573.90,488.80 572.70,488.80" fill="#000" style="shape-rendering:auto"/>
<rect x="538" y="483" width="36" height="19" rx="3.5" fill="#000" style="shape-rendering:auto"/>
<rect x="539.8" y="484.9" width="31.8" height="14.7" rx="2" fill="#fff" style="shape-rendering:auto"/>
<rect x="588" y="428" width="24" height="102" fill="#000"/>
<rect x="589" y="429" width="22" height="100" fill="#fff"/>
<rect x="591" y="433" width="7" height="7" fill="#000"/>
<rect x="592" y="434" width="5" height="5" fill="#fff"/>
<rect x="601" y="433" width="7" height="7" fill="#000"/>
<rect x="602" y="434" width="5" height="5" fill="#fff"/>
<rect x="591" y="443" width="7" height="7" fill="#000"/>
<rect x="592" y="444" width="5" height="5" fill="#fff"/>
<rect x="601" y="443" width="7" height="7" fill="#000"/>
<rect x="602" y="444" width="5" height="5" fill="#fff"/>
<rect x="591" y="452" width="7" height="7" fill="#000"/>
<rect x="592" y="453" width="5" height="5" fill="#fff"/>
<rect x="601" y="452" width="7" height="7" fill="#000"/>
<rect x="602" y="453" width="5" height="5" fill="#fff"/>
<rect x="591" y="461" width="7" height="7" fill="#000"/>
<rect x="592" y="462" width="5" height="5" fill="#fff"/>
<rect x="601" y="461" width="7" height="7" fill="#000"/>
<rect x="602" y="462" width="5" height="5" fill="#fff"/>
<rect x="591" y="471" width="7" height="7" fill="#000"/>
<rect x="592" y="472" width="5" height="5" fill="#fff"/>
<rect x="601" y="471" width="7" height="7" fill="#000"/>
<rect x="602" y="472" width="5" height="5" fill="#fff"/>
<rect x="591" y="480" width="7" height="7" fill="#000"/>
<rect x="592" y="481" width="5" height="5" fill="#fff"/>
<rect x="601" y="480" width="7" height="7" fill="#000"/>
<rect x="602" y="481" width="5" height="5" fill="#fff"/>
<rect x="591" y="489" width="7" height="7" fill="#000"/>
<rect x="592" y="490" width="5" height="5" fill="#fff"/>
<rect x="601" y="489" width="7" height="7" fill="#000"/>
<rect x="602" y="490" width="5" height="5" fill="#fff"/>
<rect x="591" y="499" width="7" height="7" fill="#000"/>
<rect x="592" y="500" width="5" height="5" fill="#fff"/>
<rect x="601" y="499" width="7" height="7" fill="#000"/>
<rect x="602" y="500" width="5" height="5" fill="#fff"/>
<rect x="591" y="508" width="7" height="7" fill="#000"/>
<rect x="592" y="509" width="5" height="5" fill="#fff"/>
<rect x="601" y="508" width="7" height="7" fill="#000"/>
<rect x="602" y="509" width="5" height="5" fill="#fff"/>
<rect x="591" y="517" width="7" height="7" fill="#000"/>
<rect x="592" y="518" width="5" height="5" fill="#fff"/>
<rect x="601" y="517" width="7" height="7" fill="#000"/>
<rect x="602" y="518" width="5" height="5" fill="#fff"/>
<rect x="617" y="421" width="24" height="113" fill="#000"/>
<rect x="618" y="422" width="22" height="111" fill="#fff"/>
<rect x="632" y="422" width="1" height="111" fill="#000"/>
<rect x="620" y="421" width="3" height="3" fill="#000"/>
<rect x="620" y="531" width="3" height="3" fill="#000"/>
<rect x="620" y="427" width="7" height="7" fill="#000"/>
<rect x="621" y="428" width="5" height="5" fill="#fff"/>
<rect x="628" y="426" width="3" height="8" fill="#000"/>
<rect x="634" y="428" width="3" height="5" fill="#000"/>
<rect x="633" y="429" width="6" height="3" fill="#000"/>
<rect x="620" y="437" width="7" height="7" fill="#000"/>
<rect x="621" y="438" width="5" height="5" fill="#fff"/>
<rect x="628" y="436" width="3" height="8" fill="#000"/>
<rect x="634" y="438" width="3" height="5" fill="#000"/>
<rect x="633" y="439" width="6" height="3" fill="#000"/>
<rect x="620" y="446" width="7" height="7" fill="#000"/>
<rect x="621" y="447" width="5" height="5" fill="#fff"/>
<rect x="628" y="445" width="3" height="8" fill="#000"/>
<rect x="634" y="447" width="3" height="5" fill="#000"/>
<rect x="633" y="448" width="6" height="3" fill="#000"/>
<rect x="620" y="455" width="7" height="7" fill="#000"/>
<rect x="621" y="456" width="5" height="5" fill="#fff"/>
<rect x="628" y="454" width="3" height="8" fill="#000"/>
<rect x="634" y="456" width="3" height="5" fill="#000"/>
<rect x="633" y="457" width="6" height="3" fill="#000"/>
<rect x="620" y="465" width="7" height="7" fill="#000"/>
<rect x="621" y="466" width="5" height="5" fill="#fff"/>
<rect x="628" y="464" width="3" height="8" fill="#000"/>
<rect x="634" y="466" width="3" height="5" fill="#000"/>
<rect x="633" y="467" width="6" height="3" fill="#000"/>
<rect x="620" y="474" width="7" height="7" fill="#000"/>
<rect x="621" y="475" width="5" height="5" fill="#fff"/>
<rect x="628" y="473" width="3" height="8" fill="#000"/>
<rect x="634" y="475" width="3" height="5" fill="#000"/>
<rect x="633" y="476" width="6" height="3" fill="#000"/>
<rect x="620" y="484" width="7" height="7" fill="#000"/>
<rect x="621" y="485" width="5" height="5" fill="#fff"/>
<rect x="628" y="483" width="3" height="8" fill="#000"/>
<rect x="634" y="485" width="3" height="5" fill="#000"/>
<rect x="633" y="486" width="6" height="3" fill="#000"/>
<rect x="620" y="493" width="7" height="7" fill="#000"/>
<rect x="621" y="494" width="5" height="5" fill="#fff"/>
<rect x="628" y="492" width="3" height="8" fill="#000"/>
<rect x="634" y="494" width="3" height="5" fill="#000"/>
<rect x="633" y="495" width="6" height="3" fill="#000"/>
<rect x="620" y="503" width="7" height="7" fill="#000"/>
<rect x="621" y="504" width="5" height="5" fill="#fff"/>
<rect x="628" y="502" width="3" height="8" fill="#000"/>
<rect x="634" y="504" width="3" height="5" fill="#000"/>
<rect x="633" y="505" width="6" height="3" fill="#000"/>
<rect x="620" y="512" width="7" height="7" fill="#000"/>
<rect x="621" y="513" width="5" height="5" fill="#fff"/>
<rect x="628" y="511" width="3" height="8" fill="#000"/>
<rect x="634" y="513" width="3" height="5" fill="#000"/>
<rect x="633" y="514" width="6" height="3" fill="#000"/>
<rect x="620" y="522" width="7" height="7" fill="#000"/>
<rect x="621" y="523" width="5" height="5" fill="#fff"/>
<rect x="628" y="521" width="3" height="8" fill="#000"/>
<rect x="634" y="523" width="3" height="5" fill="#000"/>
<rect x="633" y="524" width="6" height="3" fill="#000"/>
<rect x="635" y="424" width="1" height="107" fill="#000"/>
<path d="M687 457L684 457L684 461L680 461L680 468L656 468L656 474L653 474L653 499L656 499L656 505L680 505L680 509L684 509L684 512L687 512Z" fill="#000" stroke="none" stroke-width="1"/>
<rect x="649" y="476" width="5" height="8" fill="#000"/>
<rect x="650" y="477" width="3" height="6" fill="#fff"/>
<rect x="649" y="488" width="5" height="8" fill="#000"/>
<rect x="650" y="489" width="3" height="6" fill="#fff"/>
<rect x="653" y="517" width="25" height="14" fill="#000"/>
<rect x="654" y="518" width="23" height="12" fill="#fff"/>
<rect x="656" y="519" width="4" height="4" fill="#000"/>
<rect x="656" y="525" width="4" height="4" fill="#000"/>
<rect x="661" y="519" width="4" height="4" fill="#000"/>
<rect x="661" y="525" width="4" height="4" fill="#000"/>
<rect x="667" y="519" width="4" height="4" fill="#000"/>
<rect x="667" y="525" width="4" height="4" fill="#000"/>
<rect x="672" y="519" width="4" height="4" fill="#000"/>
<rect x="672" y="525" width="4" height="4" fill="#000"/>
<rect x="673" y="520" width="2" height="2" fill="#fff"/>
<polygon points="694.40,520.30 693.20,520.30 685.60,522.50 678.00,522.50 678.00,525.50 685.60,525.50 693.20,527.70 694.40,527.70" fill="#000" style="shape-rendering:auto"/>
<rect x="693" y="515" width="36" height="19" rx="3.5" fill="#000" style="shape-rendering:auto"/>
<rect x="694.8" y="516.9" width="31.8" height="14.7" rx="2" fill="#fff" style="shape-rendering:auto"/>
<polygon points="46.50,53.25 49.00,53.25 51.10,52.50 55.65,52.50 55.65,51.50 51.10,51.50 49.00,50.75 46.50,50.75" fill="#fff" style="shape-rendering:auto"/>
<polygon points="46.50,75.25 49.00,75.25 51.10,74.50 55.65,74.50 55.65,73.50 51.10,73.50 49.00,72.75 46.50,72.75" fill="#fff" style="shape-rendering:auto"/>
<polygon points="47.00,139.65 49.50,139.65 51.72,138.90 56.53,138.90 56.53,137.90 51.72,137.90 49.50,137.15 47.00,137.15" fill="#fff" style="shape-rendering:auto"/>
<polygon points="292.50,42.75 290.00,42.75 287.75,43.50 282.88,43.50 282.88,44.50 287.75,44.50 290.00,45.25 292.50,45.25" fill="#fff" style="shape-rendering:auto"/>
<polygon points="270.49,80.13 267.99,80.15 265.90,80.92 261.35,80.95 261.35,81.95 265.90,81.91 268.01,82.65 270.51,82.63" fill="#fff" style="shape-rendering:auto"/>
<polygon points="529.27,67.40 531.77,67.45 533.96,66.74 538.68,66.84 538.70,65.84 533.99,65.75 531.83,64.95 529.33,64.90" fill="#fff" style="shape-rendering:auto"/>
<polygon points="495.85,105.50 495.85,103.00 495.10,99.71 495.10,92.57 494.10,92.57 494.10,99.71 493.35,103.00 493.35,105.50" fill="#fff" style="shape-rendering:auto"/>
<polygon points="585.71,17.47 585.65,19.97 586.34,22.60 586.21,28.25 587.21,28.28 587.34,22.62 588.15,20.03 588.21,17.53" fill="#fff" style="shape-rendering:auto"/>
<polygon points="588.75,90.50 588.75,88.00 588.00,85.54 588.00,80.21 587.00,80.21 587.00,85.54 586.25,88.00 586.25,90.50" fill="#fff" style="shape-rendering:auto"/>
<polygon points="643.75,23.80 643.75,26.30 644.50,28.66 644.50,33.76 645.50,33.76 645.50,28.66 646.25,26.30 646.25,23.80" fill="#fff" style="shape-rendering:auto"/>
<polygon points="656.50,79.25 654.00,79.25 651.75,80.00 646.88,80.00 646.88,81.00 651.75,81.00 654.00,81.75 656.50,81.75" fill="#fff" style="shape-rendering:auto"/>
<polygon points="200.17,139.47 198.10,141.64 196.75,144.13 192.65,148.42 193.38,149.12 197.47,144.83 199.90,143.36 201.98,141.19" fill="#fff" style="shape-rendering:auto"/>
<polygon points="207.90,161.75 205.40,161.75 202.94,162.50 197.61,162.50 197.61,163.50 202.94,163.50 205.40,164.25 207.90,164.25" fill="#fff" style="shape-rendering:auto"/>
<polygon points="89.66,183.47 87.59,185.64 86.34,188.05 82.44,192.14 83.16,192.83 87.06,188.73 89.41,187.36 91.47,185.19" fill="#fff" style="shape-rendering:auto"/>
<polygon points="45.40,216.55 47.90,216.55 50.31,215.80 55.55,215.80 55.55,214.80 50.31,214.80 47.90,214.05 45.40,214.05" fill="#fff" style="shape-rendering:auto"/>
<polygon points="91.41,236.44 89.44,234.18 87.08,232.60 83.18,228.12 82.42,228.77 86.32,233.26 87.56,235.82 89.53,238.08" fill="#fff" style="shape-rendering:auto"/>
<polygon points="53.76,244.51 55.88,242.38 57.06,240.14 60.77,236.44 60.06,235.73 56.36,239.44 54.12,240.62 51.99,242.74" fill="#fff" style="shape-rendering:auto"/>
<polygon points="91.41,271.94 89.44,269.68 87.08,268.10 83.18,263.62 82.42,264.27 86.32,268.76 87.56,271.32 89.53,273.58" fill="#fff" style="shape-rendering:auto"/>
<polygon points="49.34,280.03 51.41,277.86 52.66,275.45 56.56,271.36 55.84,270.67 51.94,274.77 49.59,276.14 47.53,278.31" fill="#fff" style="shape-rendering:auto"/>
<polygon points="69.75,300.00 69.75,297.50 69.00,294.81 69.00,289.00 68.00,289.00 68.00,294.81 67.25,297.50 67.25,300.00" fill="#fff" style="shape-rendering:auto"/>
<polygon points="95.25,472.50 95.25,475.00 96.00,477.55 96.00,483.07 97.00,483.07 97.00,477.55 97.75,475.00 97.75,472.50" fill="#fff" style="shape-rendering:auto"/>
<polygon points="75.03,492.19 77.09,494.36 79.35,495.64 83.05,499.54 83.78,498.86 80.07,494.96 78.91,492.64 76.84,490.46" fill="#fff" style="shape-rendering:auto"/>
<polygon points="76.91,525.56 78.93,523.34 80.08,520.95 83.79,516.85 83.04,516.18 79.34,520.27 77.07,521.66 75.06,523.89" fill="#fff" style="shape-rendering:auto"/>
<polygon points="96.75,545.50 96.75,543.00 96.00,540.15 96.00,533.98 95.00,533.98 95.00,540.15 94.25,543.00 94.25,545.50" fill="#fff" style="shape-rendering:auto"/>
<polygon points="178.97,462.84 181.14,464.91 183.55,466.16 187.64,470.06 188.33,469.34 184.23,465.44 182.86,463.09 180.69,461.03" fill="#fff" style="shape-rendering:auto"/>
<polygon points="173.16,483.17 175.66,483.25 178.17,482.57 183.57,482.74 183.60,481.74 178.21,481.58 175.74,480.75 173.24,480.68" fill="#fff" style="shape-rendering:auto"/>
<polygon points="223.25,446.90 223.25,449.40 224.00,451.89 224.00,457.28 225.00,457.28 225.00,451.89 225.75,449.40 225.75,446.90" fill="#fff" style="shape-rendering:auto"/>
<polygon points="596.60,248.25 594.10,248.25 591.81,249.00 586.83,249.00 586.83,250.00 591.81,250.00 594.10,250.75 596.60,250.75" fill="#fff" style="shape-rendering:auto"/>
<polygon points="607.90,341.25 605.40,341.25 603.24,342.00 598.56,342.00 598.56,343.00 603.24,343.00 605.40,343.75 607.90,343.75" fill="#fff" style="shape-rendering:auto"/>
<polygon points="600.25,378.20 600.25,380.70 601.00,383.07 601.00,388.20 602.00,388.20 602.00,383.07 602.75,380.70 602.75,378.20" fill="#fff" style="shape-rendering:auto"/>
<polygon points="499.25,428.00 499.25,425.50 498.50,423.02 498.50,417.66 497.50,417.66 497.50,423.02 496.75,425.50 496.75,428.00" fill="#fff" style="shape-rendering:auto"/>
<polygon points="683.16,377.46 681.09,379.64 679.93,381.96 676.22,385.86 676.95,386.54 680.65,382.64 682.91,381.36 684.97,379.19" fill="#fff" style="shape-rendering:auto"/>
<polygon points="690.30,405.25 687.80,405.25 685.58,406.00 680.77,406.00 680.77,407.00 685.58,407.00 687.80,407.75 690.30,407.75" fill="#fff" style="shape-rendering:auto"/>
<polygon points="549.75,449.80 549.75,452.30 550.50,454.81 550.50,460.23 551.50,460.23 551.50,454.81 552.25,452.30 552.25,449.80" fill="#fff" style="shape-rendering:auto"/>
<polygon points="571.40,493.75 573.90,493.75 576.01,493.00 580.60,493.00 580.60,492.00 576.01,492.00 573.90,491.25 571.40,491.25" fill="#fff" style="shape-rendering:auto"/>
<polygon points="695.70,522.75 693.20,522.75 690.92,523.50 685.98,523.50 685.98,524.50 690.92,524.50 693.20,525.25 695.70,525.25" fill="#fff" style="shape-rendering:auto"/>
<g>
<text transform="scale(0.72,1)" x="24.01 37.92 51.83" y="57" font-size="14" fill="#000" stroke="#000" stroke-width="0.1">CN5</text>
<text transform="scale(0.72,1)" x="22.06 36.27 50.47" y="79.5" font-size="14" fill="#000" stroke="#000" stroke-width="0.1">CN6</text>
<text transform="scale(0.95,1)" x="50.07 58.76" y="111.7" font-size="11.6" fill="#000" stroke="#000" stroke-width="0.1">12</text>
<text transform="scale(0.72,1)" x="39.22 50.33" y="142" font-size="14" fill="#000" stroke="#000" stroke-width="0.1">J3</text>
<text transform="scale(0.72,1)" x="407.28 419.01" y="48" font-size="14" fill="#000" stroke="#000" stroke-width="0.1">J1</text>
<text transform="scale(0.72,1)" x="377.55 389.58" y="86" font-size="14" fill="#000" stroke="#000" stroke-width="0.1">J2</text>
<text transform="scale(0.72,1)" x="479.41 493.33 501.80 517.28" y="61.7" font-size="14" fill="#000" stroke="#000" stroke-width="0.1">BIOS</text>
<text transform="scale(0.72,1)" x="693.66 706.41 721.49" y="70.9" font-size="14" fill="#000" stroke="#000" stroke-width="0.1">JP9</text>
<text transform="scale(0.72,1)" x="661.86 673.76 687.99 700.68" y="114.6" font-size="14" fill="#000" stroke="#000" stroke-width="0.1">JP10</text>
<text transform="scale(0.9,1)" x="595.16 604.41 613.67 622.92 632.18" y="123.5" font-size="10.5" fill="#000" stroke="#000" stroke-width="0.1">35996</text>
<text transform="scale(0.72,1)" x="803.66 815.86" y="15.9" font-size="14" fill="#000" stroke="#000" stroke-width="0.1">J5</text>
<text transform="scale(0.72,1)" x="802.83 814.43" y="100.7" font-size="14" fill="#000" stroke="#000" stroke-width="0.1">J4</text>
<text transform="scale(0.72,1)" x="876.23 892.05 907.87" y="21.7" font-size="14" fill="#000" stroke="#000" stroke-width="0.1">CN9</text>
<text transform="scale(0.72,1)" x="913.94 925.19" y="85" font-size="14" fill="#000" stroke="#000" stroke-width="0.1">J6</text>
<text transform="scale(0.72,1)" x="275.75 288.16 302.91 316.11" y="140.9" font-size="14" fill="#000" stroke="#000" stroke-width="0.1">JP8A</text>
<text transform="scale(0.72,1)" x="289.22 301.22 315.56 328.35" y="166.8" font-size="14" fill="#000" stroke="#000" stroke-width="0.1">JP8B</text>
<text transform="translate(229.3,192.5) rotate(90)" font-size="16.5" fill="#fff" textLength="36" lengthAdjust="spacingAndGlyphs">AMP</text>
<text transform="scale(0.72,1)" x="122.55 134.00 147.78 160.01" y="183.9" font-size="14" fill="#000" stroke="#000" stroke-width="0.1">JP6E</text>
<text transform="scale(0.72,1)" x="135.89 147.28 161.02 173.20" y="210.5" font-size="14" fill="#000" stroke="#000" stroke-width="0.1">JP6D</text>
<text transform="scale(0.72,1)" x="8.39 20.25 34.44 47.09" y="219.9" font-size="14" fill="#000" stroke="#000" stroke-width="0.1">JP6C</text>
<text transform="scale(0.72,1)" x="123.94 135.43 149.26 161.54" y="244.6" font-size="14" fill="#000" stroke="#000" stroke-width="0.1">JP6B</text>
<text transform="scale(0.72,1)" x="25.47 37.42 51.71 64.44" y="253" font-size="14" fill="#000" stroke="#000" stroke-width="0.1">JP6A</text>
<text transform="scale(0.72,1)" x="194.42 209.19 223.19" y="258.8" font-size="14" fill="#000" stroke="#000" stroke-width="0.1">CPU</text>
<text transform="scale(0.72,1)" x="123.94 135.47 149.34 161.66" y="280.8" font-size="14" fill="#000" stroke="#000" stroke-width="0.1">JP7A</text>
<text transform="scale(0.72,1)" x="20.33 32.15 46.30 58.90" y="288.8" font-size="14" fill="#000" stroke="#000" stroke-width="0.1">JP7B</text>
<text transform="scale(0.72,1)" x="69.22 80.52 94.17 106.26" y="309.7" font-size="14" fill="#000" stroke="#000" stroke-width="0.1">JP7C</text>
<text transform="scale(0.72,1)" x="157.88 170.24 182.59 195.72 208.08 214.98" y="387.5" font-size="14" fill="#000" stroke="#000" stroke-width="0.1">BANK 0</text>
<text transform="scale(0.72,1)" x="156.23 169.52 182.04 195.33 208.63" y="440.2" font-size="14" fill="#000" stroke="#000" stroke-width="0.1">CACHE</text>
<text transform="scale(0.72,1)" x="109.78 121.49 135.55 148.05" y="470" font-size="14" fill="#000" stroke="#000" stroke-width="0.1">JP5A</text>
<text transform="scale(0.72,1)" x="58.11 70.30 84.82 97.79" y="491.8" font-size="14" fill="#000" stroke="#000" stroke-width="0.1">JP5B</text>
<text transform="scale(0.72,1)" x="58.11 69.60 83.43 95.70" y="532.7" font-size="14" fill="#000" stroke="#000" stroke-width="0.1">JP5C</text>
<text transform="scale(0.72,1)" x="108.39 120.53 135.00 147.93" y="555" font-size="14" fill="#000" stroke="#000" stroke-width="0.1">JP5D</text>
<text transform="scale(0.72,1)" x="201.86 213.44 227.35 239.72" y="462.2" font-size="14" fill="#000" stroke="#000" stroke-width="0.1">JP4A</text>
<text transform="scale(0.72,1)" x="185.75 197.56 211.72 224.32" y="485.8" font-size="14" fill="#000" stroke="#000" stroke-width="0.1">JP4B</text>
<text transform="scale(0.72,1)" x="293.25 305.90 320.89" y="444.8" font-size="14" fill="#000" stroke="#000" stroke-width="0.1">JP3</text>
<text transform="scale(0.72,1)" x="484.13 498.49 512.84 527.97 542.33 551.24" y="444.6" font-size="14" fill="#000" stroke="#000" stroke-width="0.1">BANK 1</text>
<text transform="scale(0.72,1)" x="484.13 498.46 512.79 527.89 542.22 551.10" y="477.7" font-size="14" fill="#000" stroke="#000" stroke-width="0.1">BANK 0</text>
<text transform="scale(0.72,1)" x="453.02 467.71 482.40 497.87 512.56 521.80" y="506.4" font-size="14" fill="#000" stroke="#000" stroke-width="0.1">BANK 2</text>
<text transform="scale(0.72,1)" x="453.02 467.69 482.37 497.82 512.49 521.72" y="526.7" font-size="14" fill="#000" stroke="#000" stroke-width="0.1">BANK 3</text>
<text transform="scale(0.72,1)" x="702.32 714.73 727.90" y="236.1" font-size="14" fill="#000" stroke="#000" stroke-width="0.1">PC4</text>
<text transform="scale(0.72,1)" x="702.32 714.83 728.11" y="279.9" font-size="14" fill="#000" stroke="#000" stroke-width="0.1">PC3</text>
<text transform="scale(0.72,1)" x="702.32 714.87 728.19" y="324.9" font-size="14" fill="#000" stroke="#000" stroke-width="0.1">PC2</text>
<text transform="scale(0.72,1)" x="702.32 714.87 728.18" y="370.2" font-size="14" fill="#000" stroke="#000" stroke-width="0.1">PC1</text>
<text transform="scale(0.72,1)" x="831.03 842.40 856.11" y="253.8" font-size="14" fill="#000" stroke="#000" stroke-width="0.1">JP2</text>
<text transform="scale(0.72,1)" x="846.03 856.53" y="347.2" font-size="14" fill="#000" stroke="#000" stroke-width="0.1">J7</text>
<text transform="scale(0.72,1)" x="819.70 834.05 848.39" y="374.8" font-size="14" fill="#000" stroke="#000" stroke-width="0.1">CN3</text>
<text transform="scale(0.72,1)" x="673.73 686.72 699.71" y="438.3" font-size="14" fill="#000" stroke="#000" stroke-width="0.1">CN4</text>
<text transform="scale(0.72,1)" x="949.84 963.73 977.62" y="380" font-size="14" fill="#000" stroke="#000" stroke-width="0.1">CN1</text>
<text transform="scale(0.72,1)" x="961.23 974.92 988.61" y="410.8" font-size="14" fill="#000" stroke="#000" stroke-width="0.1">CN2</text>
<text transform="scale(0.72,1)" x="745.54 761.93 778.33" y="448.3" font-size="14" fill="#000" stroke="#000" stroke-width="0.1">CN7</text>
<text transform="scale(0.72,1)" x="753.03 767.11 780.40" y="497.1" font-size="14" fill="#000" stroke="#000" stroke-width="0.1">ATX</text>
<text transform="scale(0.72,1)" x="966.23 982.09 997.96" y="528.7" font-size="14" fill="#000" stroke="#000" stroke-width="0.1">CN8</text>
</g>
</svg>
</body></html>
